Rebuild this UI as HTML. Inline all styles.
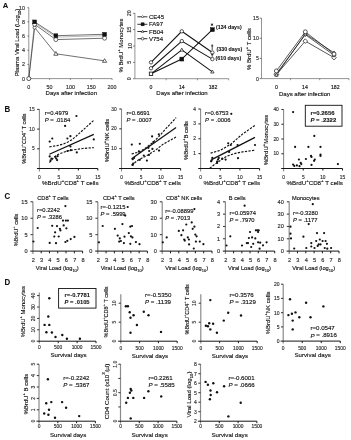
<!DOCTYPE html>
<html><head><meta charset="utf-8"><style>
html,body{margin:0;padding:0;background:#fff;}
body{width:351px;height:440px;overflow:hidden;}
svg{display:block;font-family:"Liberation Sans", sans-serif;will-change:transform;}
</style></head><body>
<svg width="351" height="440" viewBox="0 0 351 440">
<rect width="351" height="440" fill="#fff"/>
<text x="2.80" y="5.10" font-size="8.0" text-anchor="start" dominant-baseline="central" fill="#111" font-weight="bold" stroke="#111" stroke-width="0.08" textLength="5.5" lengthAdjust="spacingAndGlyphs">A</text>
<line x1="28.80" y1="7.70" x2="28.80" y2="78.60" stroke="#666" stroke-width="0.7"/>
<line x1="27.40" y1="78.60" x2="28.80" y2="78.60" stroke="#444" stroke-width="0.7"/>
<text x="25.10" y="78.60" font-size="5.4" text-anchor="end" dominant-baseline="central" fill="#2a2a2a" stroke="#2a2a2a" stroke-width="0.14">0</text>
<line x1="27.40" y1="64.42" x2="28.80" y2="64.42" stroke="#444" stroke-width="0.7"/>
<text x="25.10" y="64.42" font-size="5.4" text-anchor="end" dominant-baseline="central" fill="#2a2a2a" stroke="#2a2a2a" stroke-width="0.14">2</text>
<line x1="27.40" y1="50.24" x2="28.80" y2="50.24" stroke="#444" stroke-width="0.7"/>
<text x="25.10" y="50.24" font-size="5.4" text-anchor="end" dominant-baseline="central" fill="#2a2a2a" stroke="#2a2a2a" stroke-width="0.14">4</text>
<line x1="27.40" y1="36.06" x2="28.80" y2="36.06" stroke="#444" stroke-width="0.7"/>
<text x="25.10" y="36.06" font-size="5.4" text-anchor="end" dominant-baseline="central" fill="#2a2a2a" stroke="#2a2a2a" stroke-width="0.14">6</text>
<line x1="27.40" y1="21.88" x2="28.80" y2="21.88" stroke="#444" stroke-width="0.7"/>
<text x="25.10" y="21.88" font-size="5.4" text-anchor="end" dominant-baseline="central" fill="#2a2a2a" stroke="#2a2a2a" stroke-width="0.14">8</text>
<line x1="27.40" y1="7.70" x2="28.80" y2="7.70" stroke="#444" stroke-width="0.7"/>
<text x="25.10" y="7.70" font-size="5.4" text-anchor="end" dominant-baseline="central" fill="#2a2a2a" stroke="#2a2a2a" stroke-width="0.14">10</text>
<line x1="28.80" y1="78.60" x2="112.20" y2="78.60" stroke="#666" stroke-width="0.7"/>
<line x1="28.80" y1="78.60" x2="28.80" y2="80.00" stroke="#666" stroke-width="0.7"/>
<line x1="49.62" y1="78.60" x2="49.62" y2="80.00" stroke="#666" stroke-width="0.7"/>
<line x1="70.45" y1="78.60" x2="70.45" y2="80.00" stroke="#666" stroke-width="0.7"/>
<line x1="91.27" y1="78.60" x2="91.27" y2="80.00" stroke="#666" stroke-width="0.7"/>
<line x1="112.10" y1="78.60" x2="112.10" y2="80.00" stroke="#666" stroke-width="0.7"/>
<text x="28.80" y="86.80" font-size="5.4" text-anchor="middle" dominant-baseline="central" fill="#2a2a2a" stroke="#2a2a2a" stroke-width="0.14">0</text>
<text x="49.62" y="86.80" font-size="5.4" text-anchor="middle" dominant-baseline="central" fill="#2a2a2a" stroke="#2a2a2a" stroke-width="0.14">50</text>
<text x="70.45" y="86.80" font-size="5.4" text-anchor="middle" dominant-baseline="central" fill="#2a2a2a" stroke="#2a2a2a" stroke-width="0.14">100</text>
<text x="91.27" y="86.80" font-size="5.4" text-anchor="middle" dominant-baseline="central" fill="#2a2a2a" stroke="#2a2a2a" stroke-width="0.14">150</text>
<text x="112.10" y="86.80" font-size="5.4" text-anchor="middle" dominant-baseline="central" fill="#2a2a2a" stroke="#2a2a2a" stroke-width="0.14">200</text>
<text x="71.30" y="93.30" font-size="6.0" text-anchor="middle" dominant-baseline="central" fill="#111" stroke="#111" stroke-width="0.14">Days after infection</text>
<text x="16.50" y="42.50" font-size="5.9" text-anchor="middle" dominant-baseline="central" fill="#111" stroke="#111" stroke-width="0.14" transform="rotate(-90 16.50 42.50)">Plasma Viral Load (Log<tspan baseline-shift="sub" font-size="70%">10</tspan>)</text>
<polyline points="28.80,78.60 34.33,24.72" fill="none" stroke="#666" stroke-width="0.55"/>
<polyline points="34.63,21.88 55.87,35.71 104.60,34.29" fill="none" stroke="#111" stroke-width="0.6"/>
<polyline points="34.63,22.94 55.87,37.12 104.60,35.71" fill="none" stroke="#777" stroke-width="0.5"/>
<polyline points="34.63,24.36 55.87,39.60 104.60,38.19" fill="none" stroke="#111" stroke-width="0.6"/>
<polyline points="28.80,78.60 34.63,27.55 55.87,53.78 104.60,60.87" fill="none" stroke="#111" stroke-width="0.6"/>
<circle cx="34.63" cy="27.55" r="1.6" fill="#fff" stroke="#111" stroke-width="0.6"/>
<polygon points="55.87,51.59 53.77,55.25 57.97,55.25" fill="#fff" stroke="#111" stroke-width="0.65"/>
<polygon points="104.60,58.68 102.50,62.34 106.70,62.34" fill="#fff" stroke="#111" stroke-width="0.65"/>
<circle cx="34.63" cy="24.36" r="2.0" fill="#fff" stroke="#111" stroke-width="0.6"/>
<circle cx="55.87" cy="39.60" r="2.0" fill="#fff" stroke="#111" stroke-width="0.6"/>
<circle cx="104.60" cy="38.19" r="2.0" fill="#fff" stroke="#111" stroke-width="0.6"/>
<rect x="32.73" y="19.98" width="3.8" height="3.8" fill="#111" stroke="#111" stroke-width="0.5"/>
<rect x="53.97" y="33.81" width="3.8" height="3.8" fill="#111" stroke="#111" stroke-width="0.5"/>
<rect x="102.70" y="32.39" width="3.8" height="3.8" fill="#111" stroke="#111" stroke-width="0.5"/>
<circle cx="28.80" cy="78.60" r="2.0" fill="#fff" stroke="#111" stroke-width="0.7"/>
<line x1="134.90" y1="13.00" x2="134.90" y2="78.70" stroke="#666" stroke-width="0.7"/>
<line x1="133.10" y1="78.70" x2="134.90" y2="78.70" stroke="#444" stroke-width="0.7"/>
<text x="129.50" y="78.70" font-size="5.4" text-anchor="middle" dominant-baseline="central" fill="#2a2a2a" stroke="#2a2a2a" stroke-width="0.14" transform="rotate(-90 129.50 78.70)">0</text>
<line x1="133.10" y1="62.35" x2="134.90" y2="62.35" stroke="#444" stroke-width="0.7"/>
<text x="129.50" y="62.35" font-size="5.4" text-anchor="middle" dominant-baseline="central" fill="#2a2a2a" stroke="#2a2a2a" stroke-width="0.14" transform="rotate(-90 129.50 62.35)">5</text>
<line x1="133.10" y1="46.00" x2="134.90" y2="46.00" stroke="#444" stroke-width="0.7"/>
<text x="129.50" y="46.00" font-size="5.4" text-anchor="middle" dominant-baseline="central" fill="#2a2a2a" stroke="#2a2a2a" stroke-width="0.14" transform="rotate(-90 129.50 46.00)">10</text>
<line x1="133.10" y1="29.65" x2="134.90" y2="29.65" stroke="#444" stroke-width="0.7"/>
<text x="129.50" y="29.65" font-size="5.4" text-anchor="middle" dominant-baseline="central" fill="#2a2a2a" stroke="#2a2a2a" stroke-width="0.14" transform="rotate(-90 129.50 29.65)">15</text>
<line x1="133.10" y1="13.30" x2="134.90" y2="13.30" stroke="#444" stroke-width="0.7"/>
<text x="129.50" y="13.30" font-size="5.4" text-anchor="middle" dominant-baseline="central" fill="#2a2a2a" stroke="#2a2a2a" stroke-width="0.14" transform="rotate(-90 129.50 13.30)">20</text>
<line x1="134.90" y1="78.70" x2="228.70" y2="78.70" stroke="#666" stroke-width="0.7"/>
<line x1="166.20" y1="78.70" x2="166.20" y2="80.30" stroke="#666" stroke-width="0.7"/>
<line x1="197.40" y1="78.70" x2="197.40" y2="80.30" stroke="#666" stroke-width="0.7"/>
<line x1="228.70" y1="78.70" x2="228.70" y2="80.30" stroke="#666" stroke-width="0.7"/>
<text x="151.00" y="86.60" font-size="5.2" text-anchor="middle" dominant-baseline="central" fill="#111" stroke="#111" stroke-width="0.14">0</text>
<text x="181.80" y="86.60" font-size="5.2" text-anchor="middle" dominant-baseline="central" fill="#111" stroke="#111" stroke-width="0.14">14</text>
<text x="213.00" y="86.60" font-size="5.2" text-anchor="middle" dominant-baseline="central" fill="#111" stroke="#111" stroke-width="0.14">182</text>
<text x="182.00" y="93.40" font-size="6.0" text-anchor="middle" dominant-baseline="central" fill="#111" stroke="#111" stroke-width="0.14">Days after infection</text>
<text x="121.20" y="45.50" font-size="6.0" text-anchor="middle" dominant-baseline="central" fill="#111" stroke="#111" stroke-width="0.14" transform="rotate(-90 121.20 45.50)">% BrdU<tspan baseline-shift="super" font-size="70%">+</tspan> Monocytes</text>
<polyline points="151.00,62.35 181.80,31.29 212.40,52.54" fill="none" stroke="#111" stroke-width="1.05"/>
<polyline points="151.00,68.24 181.80,41.10 212.40,59.08" fill="none" stroke="#111" stroke-width="1.05"/>
<polyline points="151.00,73.80 181.80,49.92 212.40,71.83" fill="none" stroke="#111" stroke-width="1.05"/>
<polyline points="151.00,73.80 181.80,59.08 212.40,29.65" fill="none" stroke="#111" stroke-width="1.05"/>
<circle cx="151.00" cy="62.35" r="1.7" fill="#fff" stroke="#111" stroke-width="0.7"/>
<circle cx="181.80" cy="31.29" r="1.7" fill="#fff" stroke="#111" stroke-width="0.7"/>
<circle cx="212.40" cy="52.54" r="1.7" fill="#fff" stroke="#111" stroke-width="0.7"/>
<circle cx="151.00" cy="68.24" r="1.7" fill="#fff" stroke="#111" stroke-width="0.7"/>
<circle cx="181.80" cy="41.10" r="1.7" fill="#fff" stroke="#111" stroke-width="0.7"/>
<circle cx="212.40" cy="59.08" r="1.7" fill="#fff" stroke="#111" stroke-width="0.7"/>
<polygon points="151.00,72.02 149.30,74.98 152.70,74.98" fill="#fff" stroke="#111" stroke-width="0.7"/>
<polygon points="181.80,48.15 180.10,51.11 183.50,51.11" fill="#fff" stroke="#111" stroke-width="0.7"/>
<polygon points="212.40,70.06 210.70,73.02 214.10,73.02" fill="#fff" stroke="#111" stroke-width="0.7"/>
<rect x="149.30" y="72.09" width="3.4" height="3.4" fill="#fff" stroke="#111" stroke-width="0.8"/>
<rect x="179.85" y="57.13" width="3.9" height="3.9" fill="#111" stroke="#111" stroke-width="0.5"/>
<rect x="210.45" y="27.70" width="3.9" height="3.9" fill="#111" stroke="#111" stroke-width="0.5"/>
<line x1="137.40" y1="16.80" x2="147.40" y2="16.80" stroke="#111" stroke-width="0.85"/>
<polygon points="142.60,15.60 143.80,16.80 142.60,18.00 141.40,16.80" fill="#fff" stroke="#111" stroke-width="0.55"/>
<text x="149.00" y="16.80" font-size="6.0" text-anchor="start" dominant-baseline="central" fill="#111" stroke="#111" stroke-width="0.14">CE45</text>
<line x1="137.40" y1="24.30" x2="147.40" y2="24.30" stroke="#111" stroke-width="0.85"/>
<rect x="141.10" y="22.80" width="3.0" height="3.0" fill="#111" stroke="#111" stroke-width="0.5"/>
<text x="149.00" y="24.30" font-size="6.0" text-anchor="start" dominant-baseline="central" fill="#111" stroke="#111" stroke-width="0.14">FA97</text>
<line x1="137.40" y1="31.50" x2="147.40" y2="31.50" stroke="#111" stroke-width="0.85"/>
<polygon points="142.60,30.14 141.30,32.40 143.90,32.40" fill="#fff" stroke="#111" stroke-width="0.55"/>
<text x="149.00" y="31.50" font-size="6.0" text-anchor="start" dominant-baseline="central" fill="#111" stroke="#111" stroke-width="0.14">FB04</text>
<line x1="137.40" y1="38.70" x2="147.40" y2="38.70" stroke="#111" stroke-width="0.85"/>
<circle cx="142.60" cy="38.70" r="1.3" fill="#fff" stroke="#111" stroke-width="0.6"/>
<text x="149.00" y="38.70" font-size="6.0" text-anchor="start" dominant-baseline="central" fill="#111" stroke="#111" stroke-width="0.14">V754</text>
<text x="216.00" y="27.30" font-size="5.25" text-anchor="start" dominant-baseline="central" fill="#111" font-weight="bold" stroke="#111" stroke-width="0.08">(134 days)</text>
<text x="216.60" y="48.80" font-size="5.25" text-anchor="start" dominant-baseline="central" fill="#111" font-weight="bold" stroke="#111" stroke-width="0.08">(330 days)</text>
<text x="215.60" y="57.70" font-size="5.25" text-anchor="start" dominant-baseline="central" fill="#111" font-weight="bold" stroke="#111" stroke-width="0.08">(610 days)</text>
<line x1="212.00" y1="23.40" x2="212.00" y2="26.00" stroke="#111" stroke-width="0.7"/>
<line x1="213.13" y1="24.05" x2="210.87" y2="25.35" stroke="#111" stroke-width="0.7"/>
<line x1="213.13" y1="25.35" x2="210.87" y2="24.05" stroke="#111" stroke-width="0.7"/>
<line x1="212.20" y1="44.30" x2="212.20" y2="50.20" stroke="#111" stroke-width="0.75"/>
<line x1="211.10" y1="45.90" x2="213.30" y2="45.90" stroke="#111" stroke-width="0.75"/>
<line x1="212.20" y1="53.30" x2="212.20" y2="56.80" stroke="#111" stroke-width="0.75"/>
<line x1="211.10" y1="54.70" x2="213.30" y2="54.70" stroke="#111" stroke-width="0.75"/>
<line x1="261.50" y1="18.00" x2="261.50" y2="78.60" stroke="#666" stroke-width="0.7"/>
<line x1="259.70" y1="78.60" x2="261.50" y2="78.60" stroke="#444" stroke-width="0.7"/>
<text x="258.90" y="78.60" font-size="5.2" text-anchor="end" dominant-baseline="central" fill="#2a2a2a" stroke="#2a2a2a" stroke-width="0.14">0</text>
<line x1="259.70" y1="58.45" x2="261.50" y2="58.45" stroke="#444" stroke-width="0.7"/>
<text x="258.90" y="58.45" font-size="5.2" text-anchor="end" dominant-baseline="central" fill="#2a2a2a" stroke="#2a2a2a" stroke-width="0.14">5</text>
<line x1="259.70" y1="38.30" x2="261.50" y2="38.30" stroke="#444" stroke-width="0.7"/>
<text x="258.90" y="38.30" font-size="5.2" text-anchor="end" dominant-baseline="central" fill="#2a2a2a" stroke="#2a2a2a" stroke-width="0.14">10</text>
<line x1="259.70" y1="18.15" x2="261.50" y2="18.15" stroke="#444" stroke-width="0.7"/>
<text x="258.90" y="18.15" font-size="5.2" text-anchor="end" dominant-baseline="central" fill="#2a2a2a" stroke="#2a2a2a" stroke-width="0.14">15</text>
<line x1="261.50" y1="78.60" x2="349.00" y2="78.60" stroke="#666" stroke-width="0.7"/>
<line x1="290.50" y1="78.60" x2="290.50" y2="80.20" stroke="#666" stroke-width="0.7"/>
<line x1="319.70" y1="78.60" x2="319.70" y2="80.20" stroke="#666" stroke-width="0.7"/>
<line x1="349.00" y1="78.60" x2="349.00" y2="80.20" stroke="#666" stroke-width="0.7"/>
<text x="276.50" y="87.00" font-size="5.2" text-anchor="middle" dominant-baseline="central" fill="#111" stroke="#111" stroke-width="0.14">0</text>
<text x="305.00" y="87.00" font-size="5.2" text-anchor="middle" dominant-baseline="central" fill="#111" stroke="#111" stroke-width="0.14">14</text>
<text x="335.30" y="87.00" font-size="5.2" text-anchor="middle" dominant-baseline="central" fill="#111" stroke="#111" stroke-width="0.14">182</text>
<text x="304.70" y="93.50" font-size="6.0" text-anchor="middle" dominant-baseline="central" fill="#111" stroke="#111" stroke-width="0.14">Days after infection</text>
<text x="248.70" y="49.00" font-size="6.0" text-anchor="middle" dominant-baseline="central" fill="#111" stroke="#111" stroke-width="0.14" transform="rotate(-90 248.70 49.00)">% BrdU<tspan baseline-shift="super" font-size="70%">+</tspan> T cells</text>
<polyline points="276.40,70.94 305.30,31.85 334.00,54.02" fill="none" stroke="#111" stroke-width="0.7"/>
<polyline points="276.40,74.97 305.30,33.87 334.00,52.81" fill="none" stroke="#111" stroke-width="0.7"/>
<polyline points="276.40,73.76 305.30,34.67 334.00,55.23" fill="none" stroke="#111" stroke-width="0.7"/>
<polyline points="276.40,74.57 305.30,41.12 334.00,57.64" fill="none" stroke="#111" stroke-width="0.7"/>
<polygon points="276.40,72.27 278.70,74.57 276.40,76.87 274.10,74.57" fill="#fff" stroke="#111" stroke-width="0.7"/>
<polygon points="305.30,38.82 307.60,41.12 305.30,43.42 303.00,41.12" fill="#fff" stroke="#111" stroke-width="0.7"/>
<polygon points="334.00,55.34 336.30,57.64 334.00,59.94 331.70,57.64" fill="#fff" stroke="#111" stroke-width="0.7"/>
<polygon points="276.40,71.86 278.30,73.76 276.40,75.66 274.50,73.76" fill="#fff" stroke="#111" stroke-width="0.7"/>
<polygon points="305.30,32.77 307.20,34.67 305.30,36.57 303.40,34.67" fill="#fff" stroke="#111" stroke-width="0.7"/>
<polygon points="334.00,53.33 335.90,55.23 334.00,57.13 332.10,55.23" fill="#fff" stroke="#111" stroke-width="0.7"/>
<polygon points="276.40,73.20 274.70,76.16 278.10,76.16" fill="#fff" stroke="#111" stroke-width="0.7"/>
<polygon points="305.30,32.09 303.60,35.05 307.00,35.05" fill="#fff" stroke="#111" stroke-width="0.7"/>
<polygon points="334.00,51.03 332.30,53.99 335.70,53.99" fill="#fff" stroke="#111" stroke-width="0.7"/>
<circle cx="276.40" cy="70.94" r="2.0" fill="#fff" stroke="#111" stroke-width="0.7"/>
<circle cx="305.30" cy="31.85" r="2.0" fill="#fff" stroke="#111" stroke-width="0.7"/>
<circle cx="334.00" cy="54.02" r="2.0" fill="#fff" stroke="#111" stroke-width="0.7"/>
<text x="4.60" y="108.90" font-size="8.8" text-anchor="start" dominant-baseline="central" fill="#111" font-weight="bold" stroke="#111" stroke-width="0.08" textLength="5.7" lengthAdjust="spacingAndGlyphs">B</text>
<line x1="39.40" y1="109.40" x2="39.40" y2="171.50" stroke="#8a8a8a" stroke-width="1.1"/>
<line x1="37.20" y1="148.80" x2="39.40" y2="148.80" stroke="#333" stroke-width="1.1"/>
<text x="34.60" y="148.80" font-size="4.8" text-anchor="end" dominant-baseline="central" fill="#2a2a2a" stroke="#2a2a2a" stroke-width="0.14">5</text>
<line x1="37.20" y1="129.10" x2="39.40" y2="129.10" stroke="#333" stroke-width="1.1"/>
<text x="34.60" y="129.10" font-size="4.8" text-anchor="end" dominant-baseline="central" fill="#2a2a2a" stroke="#2a2a2a" stroke-width="0.14">10</text>
<line x1="37.20" y1="109.40" x2="39.40" y2="109.40" stroke="#333" stroke-width="1.1"/>
<text x="34.60" y="109.40" font-size="4.8" text-anchor="end" dominant-baseline="central" fill="#2a2a2a" stroke="#2a2a2a" stroke-width="0.14">15</text>
<line x1="37.00" y1="168.50" x2="97.80" y2="168.50" stroke="#151515" stroke-width="1.0"/>
<line x1="58.87" y1="168.50" x2="58.87" y2="170.50" stroke="#151515" stroke-width="1.0"/>
<line x1="78.33" y1="168.50" x2="78.33" y2="170.50" stroke="#151515" stroke-width="1.0"/>
<line x1="97.80" y1="168.50" x2="97.80" y2="170.50" stroke="#151515" stroke-width="1.0"/>
<text x="39.40" y="177.20" font-size="4.8" text-anchor="middle" dominant-baseline="central" fill="#2a2a2a" stroke="#2a2a2a" stroke-width="0.14">0</text>
<text x="58.87" y="177.20" font-size="4.8" text-anchor="middle" dominant-baseline="central" fill="#2a2a2a" stroke="#2a2a2a" stroke-width="0.14">5</text>
<text x="78.33" y="177.20" font-size="4.8" text-anchor="middle" dominant-baseline="central" fill="#2a2a2a" stroke="#2a2a2a" stroke-width="0.14">10</text>
<text x="97.80" y="177.20" font-size="4.8" text-anchor="middle" dominant-baseline="central" fill="#2a2a2a" stroke="#2a2a2a" stroke-width="0.14">15</text>
<text x="70.30" y="182.60" font-size="6.2" text-anchor="middle" dominant-baseline="central" fill="#111" stroke="#111" stroke-width="0.14">%BrdU<tspan baseline-shift="super" font-size="70%">+</tspan>CD8<tspan baseline-shift="super" font-size="70%">+</tspan> T cells</text>
<text x="24.50" y="138.60" font-size="5.5" text-anchor="middle" dominant-baseline="central" fill="#111" stroke="#111" stroke-width="0.14" transform="rotate(-90 24.50 138.60)">%BrdU<tspan baseline-shift="super" font-size="70%">+</tspan>CD4<tspan baseline-shift="super" font-size="70%">+</tspan> T cells</text>
<text x="44.80" y="112.60" font-size="5.9" text-anchor="start" dominant-baseline="central" fill="#111" stroke="#111" stroke-width="0.14">r=0.4979</text>
<text x="44.80" y="119.60" font-size="5.9" text-anchor="start" dominant-baseline="central" fill="#111" stroke="#111" stroke-width="0.14"><tspan font-style="italic">P</tspan> = .0184</text>
<polyline points="49.40,146.90 57.10,145.60 62.80,144.20 67.50,142.30 71.90,139.70 76.00,136.30 82.70,130.30 93.80,120.30" fill="none" stroke="#111" stroke-width="1.15" stroke-dasharray="2.3 1.3"/>
<polyline points="49.40,162.50 52.00,159.50 56.00,155.60 61.00,153.20 67.40,151.00 74.20,149.80 82.70,148.50 93.80,147.60" fill="none" stroke="#111" stroke-width="1.15" stroke-dasharray="2.3 1.3"/>
<polyline points="49.40,154.30 93.80,134.40" fill="none" stroke="#111" stroke-width="1.25"/>
<circle cx="49.70" cy="141.60" r="1.1" fill="#111"/>
<circle cx="52.30" cy="138.50" r="1.1" fill="#111"/>
<circle cx="65.10" cy="125.90" r="1.1" fill="#111"/>
<circle cx="76.40" cy="116.00" r="1.1" fill="#111"/>
<circle cx="67.40" cy="138.50" r="1.1" fill="#111"/>
<circle cx="70.40" cy="136.20" r="1.1" fill="#111"/>
<circle cx="70.40" cy="146.40" r="1.1" fill="#111"/>
<circle cx="76.80" cy="152.40" r="1.1" fill="#111"/>
<circle cx="93.80" cy="139.40" r="1.1" fill="#111"/>
<circle cx="49.70" cy="156.40" r="1.1" fill="#111"/>
<circle cx="50.60" cy="160.40" r="1.1" fill="#111"/>
<circle cx="51.50" cy="158.50" r="1.1" fill="#111"/>
<circle cx="55.40" cy="156.80" r="1.1" fill="#111"/>
<circle cx="56.20" cy="158.50" r="1.1" fill="#111"/>
<circle cx="57.10" cy="160.10" r="1.1" fill="#111"/>
<circle cx="57.60" cy="156.20" r="1.1" fill="#111"/>
<circle cx="67.40" cy="151.00" r="1.1" fill="#111"/>
<circle cx="70.80" cy="150.20" r="1.1" fill="#111"/>
<line x1="121.50" y1="109.00" x2="121.50" y2="171.50" stroke="#8a8a8a" stroke-width="1.1"/>
<line x1="119.30" y1="148.67" x2="121.50" y2="148.67" stroke="#333" stroke-width="1.1"/>
<text x="116.70" y="148.67" font-size="4.8" text-anchor="end" dominant-baseline="central" fill="#2a2a2a" stroke="#2a2a2a" stroke-width="0.14">10</text>
<line x1="119.30" y1="128.83" x2="121.50" y2="128.83" stroke="#333" stroke-width="1.1"/>
<text x="116.70" y="128.83" font-size="4.8" text-anchor="end" dominant-baseline="central" fill="#2a2a2a" stroke="#2a2a2a" stroke-width="0.14">20</text>
<line x1="119.30" y1="109.00" x2="121.50" y2="109.00" stroke="#333" stroke-width="1.1"/>
<text x="116.70" y="109.00" font-size="4.8" text-anchor="end" dominant-baseline="central" fill="#2a2a2a" stroke="#2a2a2a" stroke-width="0.14">30</text>
<line x1="119.10" y1="168.50" x2="180.60" y2="168.50" stroke="#151515" stroke-width="1.0"/>
<line x1="141.20" y1="168.50" x2="141.20" y2="170.50" stroke="#151515" stroke-width="1.0"/>
<line x1="160.90" y1="168.50" x2="160.90" y2="170.50" stroke="#151515" stroke-width="1.0"/>
<line x1="180.60" y1="168.50" x2="180.60" y2="170.50" stroke="#151515" stroke-width="1.0"/>
<text x="121.50" y="177.20" font-size="4.8" text-anchor="middle" dominant-baseline="central" fill="#2a2a2a" stroke="#2a2a2a" stroke-width="0.14">0</text>
<text x="141.20" y="177.20" font-size="4.8" text-anchor="middle" dominant-baseline="central" fill="#2a2a2a" stroke="#2a2a2a" stroke-width="0.14">5</text>
<text x="160.90" y="177.20" font-size="4.8" text-anchor="middle" dominant-baseline="central" fill="#2a2a2a" stroke="#2a2a2a" stroke-width="0.14">10</text>
<text x="180.60" y="177.20" font-size="4.8" text-anchor="middle" dominant-baseline="central" fill="#2a2a2a" stroke="#2a2a2a" stroke-width="0.14">15</text>
<text x="152.75" y="182.60" font-size="6.2" text-anchor="middle" dominant-baseline="central" fill="#111" stroke="#111" stroke-width="0.14">%BrdU<tspan baseline-shift="super" font-size="70%">+</tspan>CD8<tspan baseline-shift="super" font-size="70%">+</tspan> T cells</text>
<text x="106.80" y="140.50" font-size="6.0" text-anchor="middle" dominant-baseline="central" fill="#111" stroke="#111" stroke-width="0.14" transform="rotate(-90 106.80 140.50)">%BrdU<tspan baseline-shift="super" font-size="70%">+</tspan>NK cells</text>
<text x="126.40" y="112.60" font-size="5.9" text-anchor="start" dominant-baseline="central" fill="#111" stroke="#111" stroke-width="0.14">r=0.6691</text>
<text x="126.40" y="119.60" font-size="5.9" text-anchor="start" dominant-baseline="central" fill="#111" stroke="#111" stroke-width="0.14"><tspan font-style="italic">P</tspan> = .0007</text>
<polyline points="131.60,154.00 139.80,151.80 145.00,148.40 152.00,143.20 158.00,137.50 165.00,129.60 176.10,117.70" fill="none" stroke="#111" stroke-width="1.15" stroke-dasharray="2.3 1.3"/>
<polyline points="131.60,165.20 137.00,160.90 142.00,158.00 148.00,154.90 155.00,150.60 162.70,144.50 176.10,137.00" fill="none" stroke="#111" stroke-width="1.15" stroke-dasharray="2.3 1.3"/>
<polyline points="131.60,158.70 176.10,127.60" fill="none" stroke="#111" stroke-width="1.25"/>
<circle cx="131.80" cy="144.60" r="1.1" fill="#111"/>
<circle cx="139.80" cy="143.80" r="1.1" fill="#111"/>
<circle cx="152.10" cy="136.40" r="1.1" fill="#111"/>
<circle cx="159.00" cy="150.60" r="1.1" fill="#111"/>
<circle cx="146.90" cy="160.60" r="1.1" fill="#111"/>
<circle cx="132.70" cy="164.90" r="1.1" fill="#111"/>
<circle cx="133.20" cy="163.60" r="1.1" fill="#111"/>
<circle cx="138.90" cy="151.40" r="1.1" fill="#111"/>
<circle cx="143.80" cy="155.50" r="1.1" fill="#111"/>
<circle cx="148.90" cy="154.90" r="1.1" fill="#111"/>
<circle cx="149.20" cy="151.00" r="1.1" fill="#111"/>
<circle cx="152.40" cy="148.90" r="1.1" fill="#111"/>
<circle cx="158.80" cy="134.30" r="1.1" fill="#111"/>
<circle cx="139.80" cy="159.80" r="1.1" fill="#111"/>
<circle cx="134.10" cy="158.00" r="1.1" fill="#111"/>
<circle cx="132.70" cy="159.20" r="1.1" fill="#111"/>
<circle cx="148.40" cy="147.80" r="1.1" fill="#111"/>
<circle cx="153.30" cy="142.10" r="1.1" fill="#111"/>
<line x1="200.60" y1="109.00" x2="200.60" y2="171.50" stroke="#8a8a8a" stroke-width="1.1"/>
<line x1="198.40" y1="153.62" x2="200.60" y2="153.62" stroke="#333" stroke-width="1.1"/>
<text x="195.80" y="153.62" font-size="4.8" text-anchor="end" dominant-baseline="central" fill="#2a2a2a" stroke="#2a2a2a" stroke-width="0.14">1</text>
<line x1="198.40" y1="138.75" x2="200.60" y2="138.75" stroke="#333" stroke-width="1.1"/>
<text x="195.80" y="138.75" font-size="4.8" text-anchor="end" dominant-baseline="central" fill="#2a2a2a" stroke="#2a2a2a" stroke-width="0.14">2</text>
<line x1="198.40" y1="123.88" x2="200.60" y2="123.88" stroke="#333" stroke-width="1.1"/>
<text x="195.80" y="123.88" font-size="4.8" text-anchor="end" dominant-baseline="central" fill="#2a2a2a" stroke="#2a2a2a" stroke-width="0.14">3</text>
<line x1="198.40" y1="109.00" x2="200.60" y2="109.00" stroke="#333" stroke-width="1.1"/>
<text x="195.80" y="109.00" font-size="4.8" text-anchor="end" dominant-baseline="central" fill="#2a2a2a" stroke="#2a2a2a" stroke-width="0.14">4</text>
<line x1="198.20" y1="168.50" x2="259.60" y2="168.50" stroke="#151515" stroke-width="1.0"/>
<line x1="220.27" y1="168.50" x2="220.27" y2="170.50" stroke="#151515" stroke-width="1.0"/>
<line x1="239.93" y1="168.50" x2="239.93" y2="170.50" stroke="#151515" stroke-width="1.0"/>
<line x1="259.60" y1="168.50" x2="259.60" y2="170.50" stroke="#151515" stroke-width="1.0"/>
<text x="200.60" y="177.20" font-size="4.8" text-anchor="middle" dominant-baseline="central" fill="#2a2a2a" stroke="#2a2a2a" stroke-width="0.14">0</text>
<text x="220.27" y="177.20" font-size="4.8" text-anchor="middle" dominant-baseline="central" fill="#2a2a2a" stroke="#2a2a2a" stroke-width="0.14">5</text>
<text x="239.93" y="177.20" font-size="4.8" text-anchor="middle" dominant-baseline="central" fill="#2a2a2a" stroke="#2a2a2a" stroke-width="0.14">10</text>
<text x="259.60" y="177.20" font-size="4.8" text-anchor="middle" dominant-baseline="central" fill="#2a2a2a" stroke="#2a2a2a" stroke-width="0.14">15</text>
<text x="231.80" y="182.60" font-size="6.2" text-anchor="middle" dominant-baseline="central" fill="#111" stroke="#111" stroke-width="0.14">%BrdU<tspan baseline-shift="super" font-size="70%">+</tspan>CD8<tspan baseline-shift="super" font-size="70%">+</tspan> T cells</text>
<text x="186.30" y="140.50" font-size="6.0" text-anchor="middle" dominant-baseline="central" fill="#111" stroke="#111" stroke-width="0.14" transform="rotate(-90 186.30 140.50)">%BrdU<tspan baseline-shift="super" font-size="70%">+</tspan>B cells</text>
<text x="205.10" y="112.60" font-size="5.9" text-anchor="start" dominant-baseline="central" fill="#111" stroke="#111" stroke-width="0.14">r=0.6753</text>
<text x="205.10" y="119.60" font-size="5.9" text-anchor="start" dominant-baseline="central" fill="#111" stroke="#111" stroke-width="0.14"><tspan font-style="italic">P</tspan> = .0006</text>
<polyline points="210.60,153.10 220.50,150.20 230.80,144.20 242.70,133.90 255.00,125.40" fill="none" stroke="#111" stroke-width="1.15" stroke-dasharray="2.3 1.3"/>
<polyline points="209.80,168.30 213.50,165.20 218.20,162.00 226.20,156.50 234.20,153.60 242.70,151.90 255.00,150.20" fill="none" stroke="#111" stroke-width="1.15" stroke-dasharray="2.3 1.3"/>
<polyline points="211.60,159.60 255.00,137.40" fill="none" stroke="#111" stroke-width="1.25"/>
<circle cx="231.30" cy="113.80" r="1.1" fill="#111"/>
<circle cx="228.20" cy="143.30" r="1.1" fill="#111"/>
<circle cx="230.80" cy="145.00" r="1.1" fill="#111"/>
<circle cx="237.60" cy="145.00" r="1.1" fill="#111"/>
<circle cx="255.00" cy="145.00" r="1.1" fill="#111"/>
<circle cx="238.00" cy="158.20" r="1.1" fill="#111"/>
<circle cx="225.60" cy="159.60" r="1.1" fill="#111"/>
<circle cx="222.20" cy="158.70" r="1.1" fill="#111"/>
<circle cx="218.00" cy="159.60" r="1.1" fill="#111"/>
<circle cx="217.10" cy="161.60" r="1.1" fill="#111"/>
<circle cx="212.30" cy="157.90" r="1.1" fill="#111"/>
<circle cx="211.60" cy="160.40" r="1.1" fill="#111"/>
<circle cx="211.10" cy="161.30" r="1.1" fill="#111"/>
<circle cx="218.80" cy="157.90" r="1.1" fill="#111"/>
<circle cx="229.10" cy="151.90" r="1.1" fill="#111"/>
<circle cx="217.10" cy="163.00" r="1.1" fill="#111"/>
<line x1="283.60" y1="109.50" x2="283.60" y2="171.50" stroke="#8a8a8a" stroke-width="1.1"/>
<line x1="281.40" y1="153.75" x2="283.60" y2="153.75" stroke="#333" stroke-width="1.1"/>
<text x="278.80" y="153.75" font-size="4.8" text-anchor="end" dominant-baseline="central" fill="#2a2a2a" stroke="#2a2a2a" stroke-width="0.14">10</text>
<line x1="281.40" y1="139.00" x2="283.60" y2="139.00" stroke="#333" stroke-width="1.1"/>
<text x="278.80" y="139.00" font-size="4.8" text-anchor="end" dominant-baseline="central" fill="#2a2a2a" stroke="#2a2a2a" stroke-width="0.14">20</text>
<line x1="281.40" y1="124.25" x2="283.60" y2="124.25" stroke="#333" stroke-width="1.1"/>
<text x="278.80" y="124.25" font-size="4.8" text-anchor="end" dominant-baseline="central" fill="#2a2a2a" stroke="#2a2a2a" stroke-width="0.14">30</text>
<line x1="281.40" y1="109.50" x2="283.60" y2="109.50" stroke="#333" stroke-width="1.1"/>
<text x="278.80" y="109.50" font-size="4.8" text-anchor="end" dominant-baseline="central" fill="#2a2a2a" stroke="#2a2a2a" stroke-width="0.14">40</text>
<line x1="281.20" y1="168.50" x2="342.50" y2="168.50" stroke="#151515" stroke-width="1.0"/>
<line x1="303.23" y1="168.50" x2="303.23" y2="170.50" stroke="#151515" stroke-width="1.0"/>
<line x1="322.87" y1="168.50" x2="322.87" y2="170.50" stroke="#151515" stroke-width="1.0"/>
<line x1="342.50" y1="168.50" x2="342.50" y2="170.50" stroke="#151515" stroke-width="1.0"/>
<text x="283.60" y="177.20" font-size="4.8" text-anchor="middle" dominant-baseline="central" fill="#2a2a2a" stroke="#2a2a2a" stroke-width="0.14">0</text>
<text x="303.23" y="177.20" font-size="4.8" text-anchor="middle" dominant-baseline="central" fill="#2a2a2a" stroke="#2a2a2a" stroke-width="0.14">5</text>
<text x="322.87" y="177.20" font-size="4.8" text-anchor="middle" dominant-baseline="central" fill="#2a2a2a" stroke="#2a2a2a" stroke-width="0.14">10</text>
<text x="342.50" y="177.20" font-size="4.8" text-anchor="middle" dominant-baseline="central" fill="#2a2a2a" stroke="#2a2a2a" stroke-width="0.14">15</text>
<text x="314.75" y="182.60" font-size="6.2" text-anchor="middle" dominant-baseline="central" fill="#111" stroke="#111" stroke-width="0.14">%BrdU<tspan baseline-shift="super" font-size="70%">+</tspan>CD8<tspan baseline-shift="super" font-size="70%">+</tspan> T cells</text>
<text x="266.20" y="140.00" font-size="6.0" text-anchor="middle" dominant-baseline="central" fill="#111" stroke="#111" stroke-width="0.14" transform="rotate(-90 266.20 140.00)">%BrdU<tspan baseline-shift="super" font-size="70%">+</tspan>Monocytes</text>
<rect x="305.3" y="105.3" width="36.69999999999999" height="20.900000000000006" fill="#fff" stroke="#111" stroke-width="0.9"/>
<text x="310.40" y="113.10" font-size="6.0" text-anchor="start" dominant-baseline="central" fill="#111" font-weight="bold" stroke="#111" stroke-width="0.08">r=0.2656</text>
<text x="310.40" y="120.10" font-size="6.0" text-anchor="start" dominant-baseline="central" fill="#111" font-weight="bold" stroke="#111" stroke-width="0.08"><tspan font-style="italic">P</tspan> = .2322</text>
<circle cx="293.10" cy="112.10" r="1.1" fill="#111"/>
<circle cx="295.10" cy="146.90" r="1.1" fill="#111"/>
<circle cx="314.30" cy="135.90" r="1.1" fill="#111"/>
<circle cx="308.40" cy="146.90" r="1.1" fill="#111"/>
<circle cx="320.50" cy="146.90" r="1.1" fill="#111"/>
<circle cx="320.50" cy="154.60" r="1.1" fill="#111"/>
<circle cx="320.50" cy="155.90" r="1.1" fill="#111"/>
<circle cx="311.00" cy="155.90" r="1.1" fill="#111"/>
<circle cx="311.50" cy="156.90" r="1.1" fill="#111"/>
<circle cx="305.90" cy="159.00" r="1.1" fill="#111"/>
<circle cx="298.90" cy="159.50" r="1.1" fill="#111"/>
<circle cx="314.10" cy="160.80" r="1.1" fill="#111"/>
<circle cx="314.80" cy="159.50" r="1.1" fill="#111"/>
<circle cx="300.70" cy="162.80" r="1.1" fill="#111"/>
<circle cx="301.30" cy="164.10" r="1.1" fill="#111"/>
<circle cx="293.10" cy="164.60" r="1.1" fill="#111"/>
<circle cx="294.30" cy="165.90" r="1.1" fill="#111"/>
<circle cx="296.90" cy="165.40" r="1.1" fill="#111"/>
<circle cx="299.50" cy="166.20" r="1.1" fill="#111"/>
<circle cx="311.50" cy="164.90" r="1.1" fill="#111"/>
<circle cx="337.90" cy="164.10" r="1.1" fill="#111"/>
<text x="4.60" y="196.40" font-size="8.8" text-anchor="start" dominant-baseline="central" fill="#111" font-weight="bold" stroke="#111" stroke-width="0.08" textLength="5.7" lengthAdjust="spacingAndGlyphs">C</text>
<line x1="32.90" y1="201.80" x2="32.90" y2="254.10" stroke="#8a8a8a" stroke-width="1.2"/>
<text x="27.50" y="251.10" font-size="5.6" text-anchor="end" dominant-baseline="central" fill="#2a2a2a" stroke="#2a2a2a" stroke-width="0.14">0</text>
<line x1="30.50" y1="234.67" x2="32.90" y2="234.67" stroke="#333" stroke-width="1.0"/>
<text x="27.50" y="234.67" font-size="5.6" text-anchor="end" dominant-baseline="central" fill="#2a2a2a" stroke="#2a2a2a" stroke-width="0.14">5</text>
<line x1="30.50" y1="218.23" x2="32.90" y2="218.23" stroke="#333" stroke-width="1.0"/>
<text x="27.50" y="218.23" font-size="5.6" text-anchor="end" dominant-baseline="central" fill="#2a2a2a" stroke="#2a2a2a" stroke-width="0.14">10</text>
<line x1="30.50" y1="201.80" x2="32.90" y2="201.80" stroke="#333" stroke-width="1.0"/>
<text x="27.50" y="201.80" font-size="5.6" text-anchor="end" dominant-baseline="central" fill="#2a2a2a" stroke="#2a2a2a" stroke-width="0.14">15</text>
<line x1="30.30" y1="251.10" x2="82.60" y2="251.10" stroke="#151515" stroke-width="1.0"/>
<text x="33.30" y="260.40" font-size="5.6" text-anchor="middle" dominant-baseline="central" fill="#2a2a2a" stroke="#2a2a2a" stroke-width="0.14">2</text>
<line x1="41.18" y1="251.10" x2="41.18" y2="253.30" stroke="#151515" stroke-width="1.0"/>
<text x="41.58" y="260.40" font-size="5.6" text-anchor="middle" dominant-baseline="central" fill="#2a2a2a" stroke="#2a2a2a" stroke-width="0.14">3</text>
<line x1="49.47" y1="251.10" x2="49.47" y2="253.30" stroke="#151515" stroke-width="1.0"/>
<text x="49.87" y="260.40" font-size="5.6" text-anchor="middle" dominant-baseline="central" fill="#2a2a2a" stroke="#2a2a2a" stroke-width="0.14">4</text>
<line x1="57.75" y1="251.10" x2="57.75" y2="253.30" stroke="#151515" stroke-width="1.0"/>
<text x="58.15" y="260.40" font-size="5.6" text-anchor="middle" dominant-baseline="central" fill="#2a2a2a" stroke="#2a2a2a" stroke-width="0.14">5</text>
<line x1="66.03" y1="251.10" x2="66.03" y2="253.30" stroke="#151515" stroke-width="1.0"/>
<text x="66.43" y="260.40" font-size="5.6" text-anchor="middle" dominant-baseline="central" fill="#2a2a2a" stroke="#2a2a2a" stroke-width="0.14">6</text>
<line x1="74.32" y1="251.10" x2="74.32" y2="253.30" stroke="#151515" stroke-width="1.0"/>
<text x="74.72" y="260.40" font-size="5.6" text-anchor="middle" dominant-baseline="central" fill="#2a2a2a" stroke="#2a2a2a" stroke-width="0.14">7</text>
<line x1="82.60" y1="251.10" x2="82.60" y2="253.30" stroke="#151515" stroke-width="1.0"/>
<text x="83.00" y="260.40" font-size="5.6" text-anchor="middle" dominant-baseline="central" fill="#2a2a2a" stroke="#2a2a2a" stroke-width="0.14">8</text>
<text x="57.25" y="268.40" font-size="5.7" text-anchor="middle" dominant-baseline="central" fill="#111" stroke="#111" stroke-width="0.14">Viral Load (log<tspan baseline-shift="sub" font-size="70%">10</tspan>)</text>
<text x="37.20" y="198.30" font-size="5.7" text-anchor="start" dominant-baseline="central" fill="#111" stroke="#111" stroke-width="0.14">CD8<tspan baseline-shift="super" font-size="70%">+</tspan> T cells</text>
<text x="37.00" y="209.60" font-size="5.8" text-anchor="start" dominant-baseline="central" fill="#111" stroke="#111" stroke-width="0.14">r=0.2242</text>
<text x="37.00" y="216.60" font-size="5.8" text-anchor="start" dominant-baseline="central" fill="#111" stroke="#111" stroke-width="0.14"><tspan font-style="italic">P</tspan> = .3286</text>
<text x="15.60" y="230.00" font-size="5.6" text-anchor="middle" dominant-baseline="central" fill="#111" stroke="#111" stroke-width="0.14" transform="rotate(-90 15.60 230.00)">%BrdU<tspan baseline-shift="super" font-size="70%">+</tspan> cells</text>
<circle cx="37.70" cy="228.00" r="1.1" fill="#111"/>
<circle cx="33.40" cy="241.50" r="1.1" fill="#111"/>
<circle cx="49.70" cy="242.90" r="1.1" fill="#111"/>
<circle cx="56.00" cy="243.20" r="1.1" fill="#111"/>
<circle cx="52.20" cy="225.80" r="1.1" fill="#111"/>
<circle cx="57.00" cy="226.10" r="1.1" fill="#111"/>
<circle cx="59.90" cy="228.80" r="1.1" fill="#111"/>
<circle cx="60.40" cy="230.40" r="1.1" fill="#111"/>
<circle cx="55.10" cy="232.30" r="1.1" fill="#111"/>
<circle cx="54.30" cy="236.50" r="1.1" fill="#111"/>
<circle cx="58.70" cy="236.50" r="1.1" fill="#111"/>
<circle cx="63.70" cy="225.40" r="1.1" fill="#111"/>
<circle cx="66.40" cy="228.30" r="1.1" fill="#111"/>
<circle cx="63.00" cy="220.60" r="1.1" fill="#111"/>
<circle cx="65.90" cy="220.60" r="1.1" fill="#111"/>
<circle cx="67.90" cy="220.60" r="1.1" fill="#111"/>
<circle cx="65.40" cy="206.10" r="1.1" fill="#111"/>
<circle cx="65.40" cy="242.00" r="1.1" fill="#111"/>
<circle cx="67.30" cy="240.80" r="1.1" fill="#111"/>
<circle cx="70.70" cy="239.10" r="1.1" fill="#111"/>
<circle cx="74.40" cy="236.90" r="1.1" fill="#111"/>
<line x1="97.80" y1="201.80" x2="97.80" y2="254.10" stroke="#8a8a8a" stroke-width="1.2"/>
<text x="92.40" y="251.10" font-size="5.6" text-anchor="end" dominant-baseline="central" fill="#2a2a2a" stroke="#2a2a2a" stroke-width="0.14">0</text>
<line x1="95.40" y1="234.67" x2="97.80" y2="234.67" stroke="#333" stroke-width="1.0"/>
<text x="92.40" y="234.67" font-size="5.6" text-anchor="end" dominant-baseline="central" fill="#2a2a2a" stroke="#2a2a2a" stroke-width="0.14">5</text>
<line x1="95.40" y1="218.23" x2="97.80" y2="218.23" stroke="#333" stroke-width="1.0"/>
<text x="92.40" y="218.23" font-size="5.6" text-anchor="end" dominant-baseline="central" fill="#2a2a2a" stroke="#2a2a2a" stroke-width="0.14">10</text>
<line x1="95.40" y1="201.80" x2="97.80" y2="201.80" stroke="#333" stroke-width="1.0"/>
<text x="92.40" y="201.80" font-size="5.6" text-anchor="end" dominant-baseline="central" fill="#2a2a2a" stroke="#2a2a2a" stroke-width="0.14">15</text>
<line x1="95.20" y1="251.10" x2="147.40" y2="251.10" stroke="#151515" stroke-width="1.0"/>
<text x="98.20" y="260.40" font-size="5.6" text-anchor="middle" dominant-baseline="central" fill="#2a2a2a" stroke="#2a2a2a" stroke-width="0.14">2</text>
<line x1="106.07" y1="251.10" x2="106.07" y2="253.30" stroke="#151515" stroke-width="1.0"/>
<text x="106.47" y="260.40" font-size="5.6" text-anchor="middle" dominant-baseline="central" fill="#2a2a2a" stroke="#2a2a2a" stroke-width="0.14">3</text>
<line x1="114.33" y1="251.10" x2="114.33" y2="253.30" stroke="#151515" stroke-width="1.0"/>
<text x="114.73" y="260.40" font-size="5.6" text-anchor="middle" dominant-baseline="central" fill="#2a2a2a" stroke="#2a2a2a" stroke-width="0.14">4</text>
<line x1="122.60" y1="251.10" x2="122.60" y2="253.30" stroke="#151515" stroke-width="1.0"/>
<text x="123.00" y="260.40" font-size="5.6" text-anchor="middle" dominant-baseline="central" fill="#2a2a2a" stroke="#2a2a2a" stroke-width="0.14">5</text>
<line x1="130.87" y1="251.10" x2="130.87" y2="253.30" stroke="#151515" stroke-width="1.0"/>
<text x="131.27" y="260.40" font-size="5.6" text-anchor="middle" dominant-baseline="central" fill="#2a2a2a" stroke="#2a2a2a" stroke-width="0.14">6</text>
<line x1="139.13" y1="251.10" x2="139.13" y2="253.30" stroke="#151515" stroke-width="1.0"/>
<text x="139.53" y="260.40" font-size="5.6" text-anchor="middle" dominant-baseline="central" fill="#2a2a2a" stroke="#2a2a2a" stroke-width="0.14">7</text>
<line x1="147.40" y1="251.10" x2="147.40" y2="253.30" stroke="#151515" stroke-width="1.0"/>
<text x="147.80" y="260.40" font-size="5.6" text-anchor="middle" dominant-baseline="central" fill="#2a2a2a" stroke="#2a2a2a" stroke-width="0.14">8</text>
<text x="122.10" y="268.40" font-size="5.7" text-anchor="middle" dominant-baseline="central" fill="#111" stroke="#111" stroke-width="0.14">Viral Load (log<tspan baseline-shift="sub" font-size="70%">10</tspan>)</text>
<text x="103.00" y="198.30" font-size="5.7" text-anchor="start" dominant-baseline="central" fill="#111" stroke="#111" stroke-width="0.14">CD4<tspan baseline-shift="super" font-size="70%">+</tspan> T cells</text>
<text x="100.60" y="206.60" font-size="5.8" text-anchor="start" dominant-baseline="central" fill="#111" stroke="#111" stroke-width="0.14">r=-0.1215</text>
<text x="100.60" y="213.60" font-size="5.8" text-anchor="start" dominant-baseline="central" fill="#111" stroke="#111" stroke-width="0.14"><tspan font-style="italic">P</tspan> = .5999</text>
<circle cx="98.90" cy="242.30" r="1.1" fill="#111"/>
<circle cx="102.70" cy="226.00" r="1.1" fill="#111"/>
<circle cx="114.90" cy="228.80" r="1.1" fill="#111"/>
<circle cx="127.70" cy="207.00" r="1.1" fill="#111"/>
<circle cx="125.20" cy="215.60" r="1.1" fill="#111"/>
<circle cx="122.40" cy="224.10" r="1.1" fill="#111"/>
<circle cx="117.70" cy="235.60" r="1.1" fill="#111"/>
<circle cx="119.80" cy="238.40" r="1.1" fill="#111"/>
<circle cx="119.20" cy="241.60" r="1.1" fill="#111"/>
<circle cx="120.90" cy="241.00" r="1.1" fill="#111"/>
<circle cx="123.90" cy="243.10" r="1.1" fill="#111"/>
<circle cx="124.50" cy="236.70" r="1.1" fill="#111"/>
<circle cx="128.80" cy="233.10" r="1.1" fill="#111"/>
<circle cx="130.30" cy="226.70" r="1.1" fill="#111"/>
<circle cx="132.00" cy="226.00" r="1.1" fill="#111"/>
<circle cx="130.90" cy="236.30" r="1.1" fill="#111"/>
<circle cx="132.40" cy="237.40" r="1.1" fill="#111"/>
<circle cx="130.30" cy="243.80" r="1.1" fill="#111"/>
<circle cx="135.90" cy="242.10" r="1.1" fill="#111"/>
<circle cx="139.50" cy="244.20" r="1.1" fill="#111"/>
<line x1="162.20" y1="201.80" x2="162.20" y2="254.10" stroke="#8a8a8a" stroke-width="1.2"/>
<text x="156.80" y="251.10" font-size="5.6" text-anchor="end" dominant-baseline="central" fill="#2a2a2a" stroke="#2a2a2a" stroke-width="0.14">0</text>
<line x1="159.80" y1="234.67" x2="162.20" y2="234.67" stroke="#333" stroke-width="1.0"/>
<text x="156.80" y="234.67" font-size="5.6" text-anchor="end" dominant-baseline="central" fill="#2a2a2a" stroke="#2a2a2a" stroke-width="0.14">10</text>
<line x1="159.80" y1="218.23" x2="162.20" y2="218.23" stroke="#333" stroke-width="1.0"/>
<text x="156.80" y="218.23" font-size="5.6" text-anchor="end" dominant-baseline="central" fill="#2a2a2a" stroke="#2a2a2a" stroke-width="0.14">20</text>
<line x1="159.80" y1="201.80" x2="162.20" y2="201.80" stroke="#333" stroke-width="1.0"/>
<text x="156.80" y="201.80" font-size="5.6" text-anchor="end" dominant-baseline="central" fill="#2a2a2a" stroke="#2a2a2a" stroke-width="0.14">30</text>
<line x1="159.60" y1="251.10" x2="212.00" y2="251.10" stroke="#151515" stroke-width="1.0"/>
<text x="162.60" y="260.40" font-size="5.6" text-anchor="middle" dominant-baseline="central" fill="#2a2a2a" stroke="#2a2a2a" stroke-width="0.14">2</text>
<line x1="170.50" y1="251.10" x2="170.50" y2="253.30" stroke="#151515" stroke-width="1.0"/>
<text x="170.90" y="260.40" font-size="5.6" text-anchor="middle" dominant-baseline="central" fill="#2a2a2a" stroke="#2a2a2a" stroke-width="0.14">3</text>
<line x1="178.80" y1="251.10" x2="178.80" y2="253.30" stroke="#151515" stroke-width="1.0"/>
<text x="179.20" y="260.40" font-size="5.6" text-anchor="middle" dominant-baseline="central" fill="#2a2a2a" stroke="#2a2a2a" stroke-width="0.14">4</text>
<line x1="187.10" y1="251.10" x2="187.10" y2="253.30" stroke="#151515" stroke-width="1.0"/>
<text x="187.50" y="260.40" font-size="5.6" text-anchor="middle" dominant-baseline="central" fill="#2a2a2a" stroke="#2a2a2a" stroke-width="0.14">5</text>
<line x1="195.40" y1="251.10" x2="195.40" y2="253.30" stroke="#151515" stroke-width="1.0"/>
<text x="195.80" y="260.40" font-size="5.6" text-anchor="middle" dominant-baseline="central" fill="#2a2a2a" stroke="#2a2a2a" stroke-width="0.14">6</text>
<line x1="203.70" y1="251.10" x2="203.70" y2="253.30" stroke="#151515" stroke-width="1.0"/>
<text x="204.10" y="260.40" font-size="5.6" text-anchor="middle" dominant-baseline="central" fill="#2a2a2a" stroke="#2a2a2a" stroke-width="0.14">7</text>
<line x1="212.00" y1="251.10" x2="212.00" y2="253.30" stroke="#151515" stroke-width="1.0"/>
<text x="212.40" y="260.40" font-size="5.6" text-anchor="middle" dominant-baseline="central" fill="#2a2a2a" stroke="#2a2a2a" stroke-width="0.14">8</text>
<text x="186.60" y="268.40" font-size="5.7" text-anchor="middle" dominant-baseline="central" fill="#111" stroke="#111" stroke-width="0.14">Viral Load (log<tspan baseline-shift="sub" font-size="70%">10</tspan>)</text>
<text x="166.00" y="198.30" font-size="5.7" text-anchor="start" dominant-baseline="central" fill="#111" stroke="#111" stroke-width="0.14">CD8<tspan baseline-shift="super" font-size="70%">+</tspan> NK cells</text>
<text x="165.20" y="211.20" font-size="5.8" text-anchor="start" dominant-baseline="central" fill="#111" stroke="#111" stroke-width="0.14">r=-0.08899</text>
<text x="165.20" y="218.20" font-size="5.8" text-anchor="start" dominant-baseline="central" fill="#111" stroke="#111" stroke-width="0.14"><tspan font-style="italic">P</tspan> = .7013</text>
<circle cx="162.80" cy="242.30" r="1.1" fill="#111"/>
<circle cx="166.70" cy="237.40" r="1.1" fill="#111"/>
<circle cx="178.80" cy="230.90" r="1.1" fill="#111"/>
<circle cx="183.10" cy="230.30" r="1.1" fill="#111"/>
<circle cx="186.30" cy="224.50" r="1.1" fill="#111"/>
<circle cx="181.40" cy="235.20" r="1.1" fill="#111"/>
<circle cx="184.20" cy="239.50" r="1.1" fill="#111"/>
<circle cx="184.80" cy="240.60" r="1.1" fill="#111"/>
<circle cx="187.80" cy="237.40" r="1.1" fill="#111"/>
<circle cx="188.90" cy="239.50" r="1.1" fill="#111"/>
<circle cx="189.10" cy="244.40" r="1.1" fill="#111"/>
<circle cx="191.70" cy="222.40" r="1.1" fill="#111"/>
<circle cx="192.70" cy="228.80" r="1.1" fill="#111"/>
<circle cx="194.40" cy="226.70" r="1.1" fill="#111"/>
<circle cx="194.40" cy="209.10" r="1.1" fill="#111"/>
<circle cx="195.30" cy="234.60" r="1.1" fill="#111"/>
<circle cx="196.60" cy="236.30" r="1.1" fill="#111"/>
<circle cx="195.90" cy="241.60" r="1.1" fill="#111"/>
<circle cx="199.80" cy="241.60" r="1.1" fill="#111"/>
<circle cx="193.80" cy="248.50" r="1.1" fill="#111"/>
<circle cx="203.40" cy="244.20" r="1.1" fill="#111"/>
<line x1="225.40" y1="201.80" x2="225.40" y2="254.10" stroke="#8a8a8a" stroke-width="1.2"/>
<text x="220.00" y="251.10" font-size="5.6" text-anchor="end" dominant-baseline="central" fill="#2a2a2a" stroke="#2a2a2a" stroke-width="0.14">0</text>
<line x1="223.00" y1="238.78" x2="225.40" y2="238.78" stroke="#333" stroke-width="1.0"/>
<text x="220.00" y="238.78" font-size="5.6" text-anchor="end" dominant-baseline="central" fill="#2a2a2a" stroke="#2a2a2a" stroke-width="0.14">1</text>
<line x1="223.00" y1="226.45" x2="225.40" y2="226.45" stroke="#333" stroke-width="1.0"/>
<text x="220.00" y="226.45" font-size="5.6" text-anchor="end" dominant-baseline="central" fill="#2a2a2a" stroke="#2a2a2a" stroke-width="0.14">2</text>
<line x1="223.00" y1="214.12" x2="225.40" y2="214.12" stroke="#333" stroke-width="1.0"/>
<text x="220.00" y="214.12" font-size="5.6" text-anchor="end" dominant-baseline="central" fill="#2a2a2a" stroke="#2a2a2a" stroke-width="0.14">3</text>
<line x1="223.00" y1="201.80" x2="225.40" y2="201.80" stroke="#333" stroke-width="1.0"/>
<text x="220.00" y="201.80" font-size="5.6" text-anchor="end" dominant-baseline="central" fill="#2a2a2a" stroke="#2a2a2a" stroke-width="0.14">4</text>
<line x1="222.80" y1="251.10" x2="274.70" y2="251.10" stroke="#151515" stroke-width="1.0"/>
<text x="225.80" y="260.40" font-size="5.6" text-anchor="middle" dominant-baseline="central" fill="#2a2a2a" stroke="#2a2a2a" stroke-width="0.14">2</text>
<line x1="233.62" y1="251.10" x2="233.62" y2="253.30" stroke="#151515" stroke-width="1.0"/>
<text x="234.02" y="260.40" font-size="5.6" text-anchor="middle" dominant-baseline="central" fill="#2a2a2a" stroke="#2a2a2a" stroke-width="0.14">3</text>
<line x1="241.83" y1="251.10" x2="241.83" y2="253.30" stroke="#151515" stroke-width="1.0"/>
<text x="242.23" y="260.40" font-size="5.6" text-anchor="middle" dominant-baseline="central" fill="#2a2a2a" stroke="#2a2a2a" stroke-width="0.14">4</text>
<line x1="250.05" y1="251.10" x2="250.05" y2="253.30" stroke="#151515" stroke-width="1.0"/>
<text x="250.45" y="260.40" font-size="5.6" text-anchor="middle" dominant-baseline="central" fill="#2a2a2a" stroke="#2a2a2a" stroke-width="0.14">5</text>
<line x1="258.27" y1="251.10" x2="258.27" y2="253.30" stroke="#151515" stroke-width="1.0"/>
<text x="258.67" y="260.40" font-size="5.6" text-anchor="middle" dominant-baseline="central" fill="#2a2a2a" stroke="#2a2a2a" stroke-width="0.14">6</text>
<line x1="266.48" y1="251.10" x2="266.48" y2="253.30" stroke="#151515" stroke-width="1.0"/>
<text x="266.88" y="260.40" font-size="5.6" text-anchor="middle" dominant-baseline="central" fill="#2a2a2a" stroke="#2a2a2a" stroke-width="0.14">7</text>
<line x1="274.70" y1="251.10" x2="274.70" y2="253.30" stroke="#151515" stroke-width="1.0"/>
<text x="275.10" y="260.40" font-size="5.6" text-anchor="middle" dominant-baseline="central" fill="#2a2a2a" stroke="#2a2a2a" stroke-width="0.14">8</text>
<text x="249.55" y="268.40" font-size="5.7" text-anchor="middle" dominant-baseline="central" fill="#111" stroke="#111" stroke-width="0.14">Viral Load (log<tspan baseline-shift="sub" font-size="70%">10</tspan>)</text>
<text x="228.80" y="198.30" font-size="5.7" text-anchor="start" dominant-baseline="central" fill="#111" stroke="#111" stroke-width="0.14">B cells</text>
<text x="229.60" y="212.60" font-size="5.8" text-anchor="start" dominant-baseline="central" fill="#111" stroke="#111" stroke-width="0.14">r=0.05974</text>
<text x="229.60" y="219.60" font-size="5.8" text-anchor="start" dominant-baseline="central" fill="#111" stroke="#111" stroke-width="0.14"><tspan font-style="italic">P</tspan> = .7970</text>
<circle cx="226.50" cy="245.50" r="1.1" fill="#111"/>
<circle cx="230.30" cy="236.30" r="1.1" fill="#111"/>
<circle cx="244.60" cy="205.70" r="1.1" fill="#111"/>
<circle cx="242.00" cy="245.50" r="1.1" fill="#111"/>
<circle cx="246.80" cy="243.10" r="1.1" fill="#111"/>
<circle cx="248.00" cy="243.10" r="1.1" fill="#111"/>
<circle cx="248.90" cy="238.00" r="1.1" fill="#111"/>
<circle cx="250.00" cy="232.00" r="1.1" fill="#111"/>
<circle cx="252.10" cy="237.40" r="1.1" fill="#111"/>
<circle cx="251.20" cy="247.00" r="1.1" fill="#111"/>
<circle cx="253.20" cy="243.80" r="1.1" fill="#111"/>
<circle cx="255.30" cy="238.40" r="1.1" fill="#111"/>
<circle cx="255.90" cy="230.30" r="1.1" fill="#111"/>
<circle cx="257.40" cy="230.30" r="1.1" fill="#111"/>
<circle cx="258.70" cy="230.30" r="1.1" fill="#111"/>
<circle cx="258.10" cy="232.00" r="1.1" fill="#111"/>
<circle cx="258.10" cy="242.30" r="1.1" fill="#111"/>
<circle cx="260.20" cy="242.70" r="1.1" fill="#111"/>
<circle cx="259.60" cy="248.70" r="1.1" fill="#111"/>
<circle cx="263.00" cy="245.30" r="1.1" fill="#111"/>
<circle cx="266.60" cy="242.30" r="1.1" fill="#111"/>
<line x1="289.20" y1="201.80" x2="289.20" y2="254.10" stroke="#8a8a8a" stroke-width="1.2"/>
<text x="283.80" y="251.10" font-size="5.6" text-anchor="end" dominant-baseline="central" fill="#2a2a2a" stroke="#2a2a2a" stroke-width="0.14">0</text>
<line x1="286.80" y1="238.78" x2="289.20" y2="238.78" stroke="#333" stroke-width="1.0"/>
<text x="283.80" y="238.78" font-size="5.6" text-anchor="end" dominant-baseline="central" fill="#2a2a2a" stroke="#2a2a2a" stroke-width="0.14">10</text>
<line x1="286.80" y1="226.45" x2="289.20" y2="226.45" stroke="#333" stroke-width="1.0"/>
<text x="283.80" y="226.45" font-size="5.6" text-anchor="end" dominant-baseline="central" fill="#2a2a2a" stroke="#2a2a2a" stroke-width="0.14">20</text>
<line x1="286.80" y1="214.12" x2="289.20" y2="214.12" stroke="#333" stroke-width="1.0"/>
<text x="283.80" y="214.12" font-size="5.6" text-anchor="end" dominant-baseline="central" fill="#2a2a2a" stroke="#2a2a2a" stroke-width="0.14">30</text>
<line x1="286.80" y1="201.80" x2="289.20" y2="201.80" stroke="#333" stroke-width="1.0"/>
<text x="283.80" y="201.80" font-size="5.6" text-anchor="end" dominant-baseline="central" fill="#2a2a2a" stroke="#2a2a2a" stroke-width="0.14">40</text>
<line x1="286.60" y1="251.10" x2="339.00" y2="251.10" stroke="#151515" stroke-width="1.0"/>
<text x="289.60" y="260.40" font-size="5.6" text-anchor="middle" dominant-baseline="central" fill="#2a2a2a" stroke="#2a2a2a" stroke-width="0.14">2</text>
<line x1="297.50" y1="251.10" x2="297.50" y2="253.30" stroke="#151515" stroke-width="1.0"/>
<text x="297.90" y="260.40" font-size="5.6" text-anchor="middle" dominant-baseline="central" fill="#2a2a2a" stroke="#2a2a2a" stroke-width="0.14">3</text>
<line x1="305.80" y1="251.10" x2="305.80" y2="253.30" stroke="#151515" stroke-width="1.0"/>
<text x="306.20" y="260.40" font-size="5.6" text-anchor="middle" dominant-baseline="central" fill="#2a2a2a" stroke="#2a2a2a" stroke-width="0.14">4</text>
<line x1="314.10" y1="251.10" x2="314.10" y2="253.30" stroke="#151515" stroke-width="1.0"/>
<text x="314.50" y="260.40" font-size="5.6" text-anchor="middle" dominant-baseline="central" fill="#2a2a2a" stroke="#2a2a2a" stroke-width="0.14">5</text>
<line x1="322.40" y1="251.10" x2="322.40" y2="253.30" stroke="#151515" stroke-width="1.0"/>
<text x="322.80" y="260.40" font-size="5.6" text-anchor="middle" dominant-baseline="central" fill="#2a2a2a" stroke="#2a2a2a" stroke-width="0.14">6</text>
<line x1="330.70" y1="251.10" x2="330.70" y2="253.30" stroke="#151515" stroke-width="1.0"/>
<text x="331.10" y="260.40" font-size="5.6" text-anchor="middle" dominant-baseline="central" fill="#2a2a2a" stroke="#2a2a2a" stroke-width="0.14">7</text>
<line x1="339.00" y1="251.10" x2="339.00" y2="253.30" stroke="#151515" stroke-width="1.0"/>
<text x="339.40" y="260.40" font-size="5.6" text-anchor="middle" dominant-baseline="central" fill="#2a2a2a" stroke="#2a2a2a" stroke-width="0.14">8</text>
<text x="313.60" y="268.40" font-size="5.7" text-anchor="middle" dominant-baseline="central" fill="#111" stroke="#111" stroke-width="0.14">Viral Load (log<tspan baseline-shift="sub" font-size="70%">10</tspan>)</text>
<text x="292.00" y="198.30" font-size="5.7" text-anchor="start" dominant-baseline="central" fill="#111" stroke="#111" stroke-width="0.14">Monocytes</text>
<text x="293.00" y="212.60" font-size="5.8" text-anchor="start" dominant-baseline="central" fill="#111" stroke="#111" stroke-width="0.14">r=-0.3280</text>
<text x="293.00" y="219.60" font-size="5.8" text-anchor="start" dominant-baseline="central" fill="#111" stroke="#111" stroke-width="0.14"><tspan font-style="italic">P</tspan> = .1177</text>
<circle cx="290.50" cy="226.70" r="1.1" fill="#111"/>
<circle cx="290.50" cy="233.70" r="1.1" fill="#111"/>
<circle cx="291.00" cy="238.40" r="1.1" fill="#111"/>
<circle cx="294.20" cy="248.50" r="1.1" fill="#111"/>
<circle cx="303.40" cy="236.70" r="1.1" fill="#111"/>
<circle cx="306.30" cy="248.00" r="1.1" fill="#111"/>
<circle cx="308.70" cy="224.10" r="1.1" fill="#111"/>
<circle cx="311.30" cy="243.10" r="1.1" fill="#111"/>
<circle cx="311.30" cy="246.50" r="1.1" fill="#111"/>
<circle cx="312.80" cy="204.20" r="1.1" fill="#111"/>
<circle cx="314.50" cy="248.00" r="1.1" fill="#111"/>
<circle cx="316.20" cy="241.00" r="1.1" fill="#111"/>
<circle cx="317.00" cy="233.10" r="1.1" fill="#111"/>
<circle cx="317.70" cy="245.90" r="1.1" fill="#111"/>
<circle cx="318.70" cy="244.40" r="1.1" fill="#111"/>
<circle cx="319.80" cy="239.50" r="1.1" fill="#111"/>
<circle cx="320.50" cy="244.40" r="1.1" fill="#111"/>
<circle cx="322.60" cy="241.00" r="1.1" fill="#111"/>
<circle cx="324.10" cy="233.10" r="1.1" fill="#111"/>
<circle cx="324.70" cy="248.00" r="1.1" fill="#111"/>
<circle cx="325.60" cy="241.00" r="1.1" fill="#111"/>
<circle cx="326.90" cy="243.80" r="1.1" fill="#111"/>
<circle cx="327.30" cy="248.70" r="1.1" fill="#111"/>
<circle cx="331.10" cy="248.00" r="1.1" fill="#111"/>
<text x="4.60" y="282.00" font-size="8.8" text-anchor="start" dominant-baseline="central" fill="#111" font-weight="bold" stroke="#111" stroke-width="0.08" textLength="5.7" lengthAdjust="spacingAndGlyphs">D</text>
<line x1="39.30" y1="292.60" x2="39.30" y2="343.60" stroke="#8a8a8a" stroke-width="1.2"/>
<text x="32.70" y="341.20" font-size="5.0" text-anchor="middle" dominant-baseline="central" fill="#2a2a2a" stroke="#2a2a2a" stroke-width="0.14" transform="rotate(-90 32.70 341.20)">0</text>
<line x1="37.10" y1="329.80" x2="39.30" y2="329.80" stroke="#333" stroke-width="1.0"/>
<text x="32.70" y="329.80" font-size="5.0" text-anchor="middle" dominant-baseline="central" fill="#2a2a2a" stroke="#2a2a2a" stroke-width="0.14" transform="rotate(-90 32.70 329.80)">10</text>
<line x1="37.10" y1="318.40" x2="39.30" y2="318.40" stroke="#333" stroke-width="1.0"/>
<text x="32.70" y="318.40" font-size="5.0" text-anchor="middle" dominant-baseline="central" fill="#2a2a2a" stroke="#2a2a2a" stroke-width="0.14" transform="rotate(-90 32.70 318.40)">20</text>
<line x1="37.10" y1="307.00" x2="39.30" y2="307.00" stroke="#333" stroke-width="1.0"/>
<text x="32.70" y="307.00" font-size="5.0" text-anchor="middle" dominant-baseline="central" fill="#2a2a2a" stroke="#2a2a2a" stroke-width="0.14" transform="rotate(-90 32.70 307.00)">30</text>
<line x1="37.10" y1="295.60" x2="39.30" y2="295.60" stroke="#333" stroke-width="1.0"/>
<text x="32.70" y="295.60" font-size="5.0" text-anchor="middle" dominant-baseline="central" fill="#2a2a2a" stroke="#2a2a2a" stroke-width="0.14" transform="rotate(-90 32.70 295.60)">40</text>
<line x1="36.70" y1="341.20" x2="96.00" y2="341.20" stroke="#151515" stroke-width="1.0"/>
<text x="39.30" y="347.60" font-size="4.9" text-anchor="middle" dominant-baseline="central" fill="#2a2a2a" stroke="#2a2a2a" stroke-width="0.14">0</text>
<line x1="58.20" y1="341.20" x2="58.20" y2="343.20" stroke="#151515" stroke-width="1.0"/>
<text x="58.20" y="347.60" font-size="4.9" text-anchor="middle" dominant-baseline="central" fill="#2a2a2a" stroke="#2a2a2a" stroke-width="0.14">500</text>
<line x1="77.10" y1="341.20" x2="77.10" y2="343.20" stroke="#151515" stroke-width="1.0"/>
<text x="77.10" y="347.60" font-size="4.9" text-anchor="middle" dominant-baseline="central" fill="#2a2a2a" stroke="#2a2a2a" stroke-width="0.14">1000</text>
<line x1="96.00" y1="341.20" x2="96.00" y2="343.20" stroke="#151515" stroke-width="1.0"/>
<text x="96.00" y="347.60" font-size="4.9" text-anchor="middle" dominant-baseline="central" fill="#2a2a2a" stroke="#2a2a2a" stroke-width="0.14">1500</text>
<text x="68.55" y="354.60" font-size="6.1" text-anchor="middle" dominant-baseline="central" fill="#111" stroke="#111" stroke-width="0.14">Survival days</text>
<text x="22.70" y="311.60" font-size="5.9" text-anchor="middle" dominant-baseline="central" fill="#111" stroke="#111" stroke-width="0.14" transform="rotate(-90 22.70 311.60)">%BrdU<tspan baseline-shift="super" font-size="70%">+</tspan> Monocytes</text>
<rect x="58.6" y="288.5" width="37.4" height="19.600000000000023" fill="#fff" stroke="#111" stroke-width="0.9"/>
<text x="64.60" y="295.10" font-size="5.8" text-anchor="start" dominant-baseline="central" fill="#111" font-weight="bold" stroke="#111" stroke-width="0.08">r=-0.7781</text>
<text x="64.60" y="302.30" font-size="5.8" text-anchor="start" dominant-baseline="central" fill="#111" font-weight="bold" stroke="#111" stroke-width="0.08"><tspan font-style="italic">P</tspan> = .0105</text>
<circle cx="49.30" cy="298.30" r="1.2" fill="#111"/>
<circle cx="48.30" cy="316.50" r="1.2" fill="#111"/>
<circle cx="44.60" cy="324.90" r="1.2" fill="#111"/>
<circle cx="49.30" cy="324.90" r="1.2" fill="#111"/>
<circle cx="46.40" cy="332.30" r="1.2" fill="#111"/>
<circle cx="51.90" cy="332.50" r="1.2" fill="#111"/>
<circle cx="55.50" cy="337.00" r="1.2" fill="#111"/>
<circle cx="62.30" cy="335.00" r="1.2" fill="#111"/>
<circle cx="66.90" cy="338.80" r="1.2" fill="#111"/>
<circle cx="79.90" cy="338.80" r="1.2" fill="#111"/>
<line x1="120.80" y1="294.20" x2="120.80" y2="343.60" stroke="#8a8a8a" stroke-width="1.2"/>
<text x="114.50" y="341.20" font-size="5.0" text-anchor="middle" dominant-baseline="central" fill="#2a2a2a" stroke="#2a2a2a" stroke-width="0.14" transform="rotate(-90 114.50 341.20)">0</text>
<line x1="118.60" y1="322.20" x2="120.80" y2="322.20" stroke="#333" stroke-width="1.0"/>
<text x="114.50" y="322.20" font-size="5.0" text-anchor="middle" dominant-baseline="central" fill="#2a2a2a" stroke="#2a2a2a" stroke-width="0.14" transform="rotate(-90 114.50 322.20)">5</text>
<line x1="118.60" y1="303.20" x2="120.80" y2="303.20" stroke="#333" stroke-width="1.0"/>
<text x="114.50" y="303.20" font-size="5.0" text-anchor="middle" dominant-baseline="central" fill="#2a2a2a" stroke="#2a2a2a" stroke-width="0.14" transform="rotate(-90 114.50 303.20)">10</text>
<line x1="118.20" y1="341.20" x2="177.20" y2="341.20" stroke="#151515" stroke-width="1.0"/>
<text x="120.80" y="348.10" font-size="4.9" text-anchor="middle" dominant-baseline="central" fill="#2a2a2a" stroke="#2a2a2a" stroke-width="0.14">0</text>
<line x1="139.60" y1="341.20" x2="139.60" y2="343.20" stroke="#151515" stroke-width="1.0"/>
<text x="139.60" y="348.10" font-size="4.9" text-anchor="middle" dominant-baseline="central" fill="#2a2a2a" stroke="#2a2a2a" stroke-width="0.14">500</text>
<line x1="158.40" y1="341.20" x2="158.40" y2="343.20" stroke="#151515" stroke-width="1.0"/>
<text x="158.40" y="348.10" font-size="4.9" text-anchor="middle" dominant-baseline="central" fill="#2a2a2a" stroke="#2a2a2a" stroke-width="0.14">1000</text>
<line x1="177.20" y1="341.20" x2="177.20" y2="343.20" stroke="#151515" stroke-width="1.0"/>
<text x="177.20" y="348.10" font-size="4.9" text-anchor="middle" dominant-baseline="central" fill="#2a2a2a" stroke="#2a2a2a" stroke-width="0.14">1500</text>
<text x="149.90" y="355.00" font-size="6.1" text-anchor="middle" dominant-baseline="central" fill="#111" stroke="#111" stroke-width="0.14">Survival days</text>
<text x="105.70" y="312.00" font-size="5.6" text-anchor="middle" dominant-baseline="central" fill="#111" stroke="#111" stroke-width="0.14" transform="rotate(-90 105.70 312.00)">%BrdU<tspan baseline-shift="super" font-size="70%">+</tspan>CD8<tspan baseline-shift="super" font-size="70%">+</tspan> T cells</text>
<text x="145.10" y="294.20" font-size="6.1" text-anchor="start" dominant-baseline="central" fill="#111" stroke="#111" stroke-width="0.14">r=-0.5350</text>
<text x="145.10" y="301.40" font-size="6.1" text-anchor="start" dominant-baseline="central" fill="#111" stroke="#111" stroke-width="0.14"><tspan font-style="italic">P</tspan> = .1139</text>
<circle cx="125.90" cy="306.30" r="1.2" fill="#111"/>
<circle cx="127.90" cy="306.30" r="1.2" fill="#111"/>
<circle cx="129.70" cy="312.20" r="1.2" fill="#111"/>
<circle cx="130.50" cy="317.80" r="1.2" fill="#111"/>
<circle cx="133.60" cy="315.30" r="1.2" fill="#111"/>
<circle cx="130.50" cy="332.70" r="1.2" fill="#111"/>
<circle cx="136.90" cy="325.00" r="1.2" fill="#111"/>
<circle cx="143.80" cy="311.70" r="1.2" fill="#111"/>
<circle cx="148.50" cy="315.30" r="1.2" fill="#111"/>
<circle cx="161.00" cy="331.90" r="1.2" fill="#111"/>
<line x1="200.80" y1="294.20" x2="200.80" y2="343.60" stroke="#8a8a8a" stroke-width="1.2"/>
<text x="193.90" y="341.20" font-size="5.0" text-anchor="middle" dominant-baseline="central" fill="#2a2a2a" stroke="#2a2a2a" stroke-width="0.14" transform="rotate(-90 193.90 341.20)">0</text>
<line x1="198.60" y1="322.20" x2="200.80" y2="322.20" stroke="#333" stroke-width="1.0"/>
<text x="193.90" y="322.20" font-size="5.0" text-anchor="middle" dominant-baseline="central" fill="#2a2a2a" stroke="#2a2a2a" stroke-width="0.14" transform="rotate(-90 193.90 322.20)">5</text>
<line x1="198.60" y1="303.20" x2="200.80" y2="303.20" stroke="#333" stroke-width="1.0"/>
<text x="193.90" y="303.20" font-size="5.0" text-anchor="middle" dominant-baseline="central" fill="#2a2a2a" stroke="#2a2a2a" stroke-width="0.14" transform="rotate(-90 193.90 303.20)">10</text>
<line x1="198.20" y1="341.20" x2="257.20" y2="341.20" stroke="#151515" stroke-width="1.0"/>
<text x="200.80" y="348.10" font-size="4.9" text-anchor="middle" dominant-baseline="central" fill="#2a2a2a" stroke="#2a2a2a" stroke-width="0.14">0</text>
<line x1="219.60" y1="341.20" x2="219.60" y2="343.20" stroke="#151515" stroke-width="1.0"/>
<text x="219.60" y="348.10" font-size="4.9" text-anchor="middle" dominant-baseline="central" fill="#2a2a2a" stroke="#2a2a2a" stroke-width="0.14">500</text>
<line x1="238.40" y1="341.20" x2="238.40" y2="343.20" stroke="#151515" stroke-width="1.0"/>
<text x="238.40" y="348.10" font-size="4.9" text-anchor="middle" dominant-baseline="central" fill="#2a2a2a" stroke="#2a2a2a" stroke-width="0.14">1000</text>
<line x1="257.20" y1="341.20" x2="257.20" y2="343.20" stroke="#151515" stroke-width="1.0"/>
<text x="257.20" y="348.10" font-size="4.9" text-anchor="middle" dominant-baseline="central" fill="#2a2a2a" stroke="#2a2a2a" stroke-width="0.14">1500</text>
<text x="229.90" y="355.00" font-size="6.1" text-anchor="middle" dominant-baseline="central" fill="#111" stroke="#111" stroke-width="0.14">Survival days</text>
<text x="187.50" y="309.30" font-size="5.5" text-anchor="middle" dominant-baseline="central" fill="#111" stroke="#111" stroke-width="0.14" transform="rotate(-90 187.50 309.30)">%BrdU<tspan baseline-shift="super" font-size="70%">+</tspan>CD4<tspan baseline-shift="super" font-size="70%">+</tspan> T cells</text>
<text x="229.50" y="294.20" font-size="6.1" text-anchor="start" dominant-baseline="central" fill="#111" stroke="#111" stroke-width="0.14">r=0.3576</text>
<text x="229.50" y="301.40" font-size="6.1" text-anchor="start" dominant-baseline="central" fill="#111" stroke="#111" stroke-width="0.14"><tspan font-style="italic">P</tspan> = .3129</text>
<circle cx="210.30" cy="300.10" r="1.2" fill="#111"/>
<circle cx="205.90" cy="325.80" r="1.2" fill="#111"/>
<circle cx="207.90" cy="326.30" r="1.2" fill="#111"/>
<circle cx="209.20" cy="323.20" r="1.2" fill="#111"/>
<circle cx="213.10" cy="323.70" r="1.2" fill="#111"/>
<circle cx="210.30" cy="329.40" r="1.2" fill="#111"/>
<circle cx="216.90" cy="332.70" r="1.2" fill="#111"/>
<circle cx="223.80" cy="320.60" r="1.2" fill="#111"/>
<circle cx="228.20" cy="312.70" r="1.2" fill="#111"/>
<circle cx="241.00" cy="315.50" r="1.2" fill="#111"/>
<line x1="283.20" y1="284.20" x2="283.20" y2="343.50" stroke="#8a8a8a" stroke-width="1.2"/>
<text x="279.60" y="341.10" font-size="5.0" text-anchor="end" dominant-baseline="central" fill="#2a2a2a" stroke="#2a2a2a" stroke-width="0.14">0</text>
<line x1="281.00" y1="326.90" x2="283.20" y2="326.90" stroke="#333" stroke-width="1.0"/>
<text x="279.60" y="326.90" font-size="5.0" text-anchor="end" dominant-baseline="central" fill="#2a2a2a" stroke="#2a2a2a" stroke-width="0.14">5</text>
<line x1="281.00" y1="312.70" x2="283.20" y2="312.70" stroke="#333" stroke-width="1.0"/>
<text x="279.60" y="312.70" font-size="5.0" text-anchor="end" dominant-baseline="central" fill="#2a2a2a" stroke="#2a2a2a" stroke-width="0.14">10</text>
<line x1="281.00" y1="298.40" x2="283.20" y2="298.40" stroke="#333" stroke-width="1.0"/>
<text x="279.60" y="298.40" font-size="5.0" text-anchor="end" dominant-baseline="central" fill="#2a2a2a" stroke="#2a2a2a" stroke-width="0.14">15</text>
<line x1="281.00" y1="284.20" x2="283.20" y2="284.20" stroke="#333" stroke-width="1.0"/>
<text x="279.60" y="284.20" font-size="5.0" text-anchor="end" dominant-baseline="central" fill="#2a2a2a" stroke="#2a2a2a" stroke-width="0.14">20</text>
<line x1="280.60" y1="341.10" x2="340.30" y2="341.10" stroke="#151515" stroke-width="1.0"/>
<text x="283.20" y="348.00" font-size="4.9" text-anchor="middle" dominant-baseline="central" fill="#2a2a2a" stroke="#2a2a2a" stroke-width="0.14">0</text>
<line x1="302.23" y1="341.10" x2="302.23" y2="343.10" stroke="#151515" stroke-width="1.0"/>
<text x="302.23" y="348.00" font-size="4.9" text-anchor="middle" dominant-baseline="central" fill="#2a2a2a" stroke="#2a2a2a" stroke-width="0.14">500</text>
<line x1="321.27" y1="341.10" x2="321.27" y2="343.10" stroke="#151515" stroke-width="1.0"/>
<text x="321.27" y="348.00" font-size="4.9" text-anchor="middle" dominant-baseline="central" fill="#2a2a2a" stroke="#2a2a2a" stroke-width="0.14">1000</text>
<line x1="340.30" y1="341.10" x2="340.30" y2="343.10" stroke="#151515" stroke-width="1.0"/>
<text x="340.30" y="348.00" font-size="4.9" text-anchor="middle" dominant-baseline="central" fill="#2a2a2a" stroke="#2a2a2a" stroke-width="0.14">1500</text>
<text x="312.65" y="354.80" font-size="6.1" text-anchor="middle" dominant-baseline="central" fill="#111" stroke="#111" stroke-width="0.14">Survival days</text>
<text x="268.30" y="312.90" font-size="5.9" text-anchor="middle" dominant-baseline="central" fill="#111" stroke="#111" stroke-width="0.14" transform="rotate(-90 268.30 312.90)">%BrdU<tspan baseline-shift="super" font-size="70%">+</tspan>NK cells</text>
<text x="310.50" y="327.40" font-size="6.1" text-anchor="start" dominant-baseline="central" fill="#111" stroke="#111" stroke-width="0.14">r=0.0547</text>
<text x="310.50" y="334.60" font-size="6.1" text-anchor="start" dominant-baseline="central" fill="#111" stroke="#111" stroke-width="0.14"><tspan font-style="italic">P</tspan> = .8916</text>
<circle cx="290.00" cy="299.30" r="1.2" fill="#111"/>
<circle cx="288.40" cy="315.10" r="1.2" fill="#111"/>
<circle cx="291.90" cy="313.80" r="1.2" fill="#111"/>
<circle cx="295.50" cy="312.40" r="1.2" fill="#111"/>
<circle cx="292.70" cy="320.60" r="1.2" fill="#111"/>
<circle cx="292.70" cy="329.40" r="1.2" fill="#111"/>
<circle cx="299.30" cy="317.30" r="1.2" fill="#111"/>
<circle cx="306.10" cy="302.80" r="1.2" fill="#111"/>
<circle cx="310.50" cy="317.30" r="1.2" fill="#111"/>
<circle cx="323.40" cy="306.40" r="1.2" fill="#111"/>
<line x1="39.00" y1="364.00" x2="39.00" y2="423.60" stroke="#8a8a8a" stroke-width="1.2"/>
<text x="32.80" y="421.20" font-size="5.0" text-anchor="middle" dominant-baseline="central" fill="#2a2a2a" stroke="#2a2a2a" stroke-width="0.14" transform="rotate(-90 32.80 421.20)">0</text>
<line x1="36.80" y1="409.80" x2="39.00" y2="409.80" stroke="#333" stroke-width="1.0"/>
<text x="32.80" y="409.80" font-size="5.0" text-anchor="middle" dominant-baseline="central" fill="#2a2a2a" stroke="#2a2a2a" stroke-width="0.14" transform="rotate(-90 32.80 409.80)">1</text>
<line x1="36.80" y1="398.40" x2="39.00" y2="398.40" stroke="#333" stroke-width="1.0"/>
<text x="32.80" y="398.40" font-size="5.0" text-anchor="middle" dominant-baseline="central" fill="#2a2a2a" stroke="#2a2a2a" stroke-width="0.14" transform="rotate(-90 32.80 398.40)">2</text>
<line x1="36.80" y1="387.00" x2="39.00" y2="387.00" stroke="#333" stroke-width="1.0"/>
<text x="32.80" y="387.00" font-size="5.0" text-anchor="middle" dominant-baseline="central" fill="#2a2a2a" stroke="#2a2a2a" stroke-width="0.14" transform="rotate(-90 32.80 387.00)">3</text>
<line x1="36.80" y1="375.60" x2="39.00" y2="375.60" stroke="#333" stroke-width="1.0"/>
<text x="32.80" y="375.60" font-size="5.0" text-anchor="middle" dominant-baseline="central" fill="#2a2a2a" stroke="#2a2a2a" stroke-width="0.14" transform="rotate(-90 32.80 375.60)">4</text>
<line x1="36.80" y1="364.20" x2="39.00" y2="364.20" stroke="#333" stroke-width="1.0"/>
<text x="32.80" y="364.20" font-size="5.0" text-anchor="middle" dominant-baseline="central" fill="#2a2a2a" stroke="#2a2a2a" stroke-width="0.14" transform="rotate(-90 32.80 364.20)">5</text>
<line x1="36.40" y1="421.20" x2="95.40" y2="421.20" stroke="#151515" stroke-width="1.0"/>
<text x="39.00" y="426.90" font-size="4.9" text-anchor="middle" dominant-baseline="central" fill="#2a2a2a" stroke="#2a2a2a" stroke-width="0.14">0</text>
<line x1="57.80" y1="421.20" x2="57.80" y2="423.20" stroke="#151515" stroke-width="1.0"/>
<text x="57.80" y="426.90" font-size="4.9" text-anchor="middle" dominant-baseline="central" fill="#2a2a2a" stroke="#2a2a2a" stroke-width="0.14">500</text>
<line x1="76.60" y1="421.20" x2="76.60" y2="423.20" stroke="#151515" stroke-width="1.0"/>
<text x="76.60" y="426.90" font-size="4.9" text-anchor="middle" dominant-baseline="central" fill="#2a2a2a" stroke="#2a2a2a" stroke-width="0.14">1000</text>
<line x1="95.40" y1="421.20" x2="95.40" y2="423.20" stroke="#151515" stroke-width="1.0"/>
<text x="95.40" y="426.90" font-size="4.9" text-anchor="middle" dominant-baseline="central" fill="#2a2a2a" stroke="#2a2a2a" stroke-width="0.14">1500</text>
<text x="68.10" y="434.60" font-size="6.1" text-anchor="middle" dominant-baseline="central" fill="#111" stroke="#111" stroke-width="0.14">Survival days</text>
<text x="26.10" y="394.20" font-size="6.0" text-anchor="middle" dominant-baseline="central" fill="#111" stroke="#111" stroke-width="0.14" transform="rotate(-90 26.10 394.20)">%BrdU<tspan baseline-shift="super" font-size="70%">+</tspan> B cells</text>
<text x="63.20" y="377.00" font-size="6.1" text-anchor="start" dominant-baseline="central" fill="#111" stroke="#111" stroke-width="0.14">r=-0.2242</text>
<text x="63.20" y="384.20" font-size="6.1" text-anchor="start" dominant-baseline="central" fill="#111" stroke="#111" stroke-width="0.14"><tspan font-style="italic">P</tspan> = .5367</text>
<circle cx="47.90" cy="379.30" r="1.2" fill="#111"/>
<circle cx="46.20" cy="403.30" r="1.2" fill="#111"/>
<circle cx="51.30" cy="402.10" r="1.2" fill="#111"/>
<circle cx="62.10" cy="402.10" r="1.2" fill="#111"/>
<circle cx="66.10" cy="407.80" r="1.2" fill="#111"/>
<circle cx="49.00" cy="409.80" r="1.2" fill="#111"/>
<circle cx="44.20" cy="413.50" r="1.2" fill="#111"/>
<circle cx="48.40" cy="414.70" r="1.2" fill="#111"/>
<circle cx="55.00" cy="417.80" r="1.2" fill="#111"/>
<circle cx="79.20" cy="416.10" r="1.2" fill="#111"/>
<line x1="120.50" y1="364.00" x2="120.50" y2="423.60" stroke="#8a8a8a" stroke-width="1.2"/>
<text x="114.90" y="421.20" font-size="5.0" text-anchor="middle" dominant-baseline="central" fill="#2a2a2a" stroke="#2a2a2a" stroke-width="0.14" transform="rotate(-90 114.90 421.20)">0</text>
<line x1="118.30" y1="406.95" x2="120.50" y2="406.95" stroke="#333" stroke-width="1.0"/>
<text x="114.90" y="406.95" font-size="5.0" text-anchor="middle" dominant-baseline="central" fill="#2a2a2a" stroke="#2a2a2a" stroke-width="0.14" transform="rotate(-90 114.90 406.95)"></text>
<line x1="118.30" y1="392.70" x2="120.50" y2="392.70" stroke="#333" stroke-width="1.0"/>
<text x="114.90" y="392.70" font-size="5.0" text-anchor="middle" dominant-baseline="central" fill="#2a2a2a" stroke="#2a2a2a" stroke-width="0.14" transform="rotate(-90 114.90 392.70)">0.5</text>
<line x1="118.30" y1="378.45" x2="120.50" y2="378.45" stroke="#333" stroke-width="1.0"/>
<text x="114.90" y="378.45" font-size="5.0" text-anchor="middle" dominant-baseline="central" fill="#2a2a2a" stroke="#2a2a2a" stroke-width="0.14" transform="rotate(-90 114.90 378.45)"></text>
<line x1="118.30" y1="364.20" x2="120.50" y2="364.20" stroke="#333" stroke-width="1.0"/>
<text x="114.90" y="364.20" font-size="5.0" text-anchor="middle" dominant-baseline="central" fill="#2a2a2a" stroke="#2a2a2a" stroke-width="0.14" transform="rotate(-90 114.90 364.20)">1.0</text>
<line x1="117.90" y1="421.20" x2="176.90" y2="421.20" stroke="#151515" stroke-width="1.0"/>
<text x="120.50" y="426.90" font-size="4.9" text-anchor="middle" dominant-baseline="central" fill="#2a2a2a" stroke="#2a2a2a" stroke-width="0.14">0</text>
<line x1="139.30" y1="421.20" x2="139.30" y2="423.20" stroke="#151515" stroke-width="1.0"/>
<text x="139.30" y="426.90" font-size="4.9" text-anchor="middle" dominant-baseline="central" fill="#2a2a2a" stroke="#2a2a2a" stroke-width="0.14">500</text>
<line x1="158.10" y1="421.20" x2="158.10" y2="423.20" stroke="#151515" stroke-width="1.0"/>
<text x="158.10" y="426.90" font-size="4.9" text-anchor="middle" dominant-baseline="central" fill="#2a2a2a" stroke="#2a2a2a" stroke-width="0.14">1000</text>
<line x1="176.90" y1="421.20" x2="176.90" y2="423.20" stroke="#151515" stroke-width="1.0"/>
<text x="176.90" y="426.90" font-size="4.9" text-anchor="middle" dominant-baseline="central" fill="#2a2a2a" stroke="#2a2a2a" stroke-width="0.14">1500</text>
<text x="149.60" y="434.60" font-size="6.1" text-anchor="middle" dominant-baseline="central" fill="#111" stroke="#111" stroke-width="0.14">Survival days</text>
<text x="106.30" y="391.40" font-size="6.2" text-anchor="middle" dominant-baseline="central" fill="#111" stroke="#111" stroke-width="0.14" transform="rotate(-90 106.30 391.40)">CD4 Count (x10<tspan baseline-shift="super" font-size="70%">3</tspan>/µl)</text>
<text x="148.40" y="377.00" font-size="6.1" text-anchor="start" dominant-baseline="central" fill="#111" stroke="#111" stroke-width="0.14">r=0.2261</text>
<text x="148.40" y="384.20" font-size="6.1" text-anchor="start" dominant-baseline="central" fill="#111" stroke="#111" stroke-width="0.14"><tspan font-style="italic">P</tspan> = .5585</text>
<circle cx="130.70" cy="389.00" r="1.2" fill="#111"/>
<circle cx="129.90" cy="392.70" r="1.2" fill="#111"/>
<circle cx="127.90" cy="397.90" r="1.2" fill="#111"/>
<circle cx="133.30" cy="397.90" r="1.2" fill="#111"/>
<circle cx="144.10" cy="397.90" r="1.2" fill="#111"/>
<circle cx="148.40" cy="391.30" r="1.2" fill="#111"/>
<circle cx="161.20" cy="396.40" r="1.2" fill="#111"/>
<circle cx="126.20" cy="402.70" r="1.2" fill="#111"/>
<circle cx="130.70" cy="418.40" r="1.2" fill="#111"/>
<circle cx="131.30" cy="390.50" r="1.2" fill="#111"/>
<line x1="200.50" y1="364.00" x2="200.50" y2="423.60" stroke="#8a8a8a" stroke-width="1.2"/>
<text x="196.90" y="421.20" font-size="5.0" text-anchor="end" dominant-baseline="central" fill="#2a2a2a" stroke="#2a2a2a" stroke-width="0.14">2</text>
<line x1="198.30" y1="411.70" x2="200.50" y2="411.70" stroke="#333" stroke-width="1.0"/>
<text x="196.90" y="411.70" font-size="5.0" text-anchor="end" dominant-baseline="central" fill="#2a2a2a" stroke="#2a2a2a" stroke-width="0.14">3</text>
<line x1="198.30" y1="402.20" x2="200.50" y2="402.20" stroke="#333" stroke-width="1.0"/>
<text x="196.90" y="402.20" font-size="5.0" text-anchor="end" dominant-baseline="central" fill="#2a2a2a" stroke="#2a2a2a" stroke-width="0.14">4</text>
<line x1="198.30" y1="392.70" x2="200.50" y2="392.70" stroke="#333" stroke-width="1.0"/>
<text x="196.90" y="392.70" font-size="5.0" text-anchor="end" dominant-baseline="central" fill="#2a2a2a" stroke="#2a2a2a" stroke-width="0.14">5</text>
<line x1="198.30" y1="383.20" x2="200.50" y2="383.20" stroke="#333" stroke-width="1.0"/>
<text x="196.90" y="383.20" font-size="5.0" text-anchor="end" dominant-baseline="central" fill="#2a2a2a" stroke="#2a2a2a" stroke-width="0.14">6</text>
<line x1="198.30" y1="373.70" x2="200.50" y2="373.70" stroke="#333" stroke-width="1.0"/>
<text x="196.90" y="373.70" font-size="5.0" text-anchor="end" dominant-baseline="central" fill="#2a2a2a" stroke="#2a2a2a" stroke-width="0.14">7</text>
<line x1="198.30" y1="364.20" x2="200.50" y2="364.20" stroke="#333" stroke-width="1.0"/>
<text x="196.90" y="364.20" font-size="5.0" text-anchor="end" dominant-baseline="central" fill="#2a2a2a" stroke="#2a2a2a" stroke-width="0.14">8</text>
<line x1="197.90" y1="421.20" x2="256.90" y2="421.20" stroke="#151515" stroke-width="1.0"/>
<text x="200.50" y="426.90" font-size="4.9" text-anchor="middle" dominant-baseline="central" fill="#2a2a2a" stroke="#2a2a2a" stroke-width="0.14">0</text>
<line x1="219.30" y1="421.20" x2="219.30" y2="423.20" stroke="#151515" stroke-width="1.0"/>
<text x="219.30" y="426.90" font-size="4.9" text-anchor="middle" dominant-baseline="central" fill="#2a2a2a" stroke="#2a2a2a" stroke-width="0.14">500</text>
<line x1="238.10" y1="421.20" x2="238.10" y2="423.20" stroke="#151515" stroke-width="1.0"/>
<text x="238.10" y="426.90" font-size="4.9" text-anchor="middle" dominant-baseline="central" fill="#2a2a2a" stroke="#2a2a2a" stroke-width="0.14">1000</text>
<line x1="256.90" y1="421.20" x2="256.90" y2="423.20" stroke="#151515" stroke-width="1.0"/>
<text x="256.90" y="426.90" font-size="4.9" text-anchor="middle" dominant-baseline="central" fill="#2a2a2a" stroke="#2a2a2a" stroke-width="0.14">1500</text>
<text x="229.60" y="434.60" font-size="6.1" text-anchor="middle" dominant-baseline="central" fill="#111" stroke="#111" stroke-width="0.14">Survival days</text>
<text x="188.60" y="394.50" font-size="6.1" text-anchor="middle" dominant-baseline="central" fill="#111" stroke="#111" stroke-width="0.14" transform="rotate(-90 188.60 394.50)">Viral Load (log<tspan baseline-shift="sub" font-size="70%">10</tspan>)</text>
<text x="228.40" y="377.00" font-size="6.1" text-anchor="start" dominant-baseline="central" fill="#111" stroke="#111" stroke-width="0.14">r=-0.6001</text>
<text x="228.40" y="384.20" font-size="6.1" text-anchor="start" dominant-baseline="central" fill="#111" stroke="#111" stroke-width="0.14"><tspan font-style="italic">P</tspan> = .0666</text>
<circle cx="205.60" cy="381.90" r="1.2" fill="#111"/>
<circle cx="207.90" cy="384.80" r="1.2" fill="#111"/>
<circle cx="213.30" cy="383.30" r="1.2" fill="#111"/>
<circle cx="210.50" cy="390.50" r="1.2" fill="#111"/>
<circle cx="217.00" cy="392.20" r="1.2" fill="#111"/>
<circle cx="210.70" cy="395.00" r="1.2" fill="#111"/>
<circle cx="209.90" cy="399.30" r="1.2" fill="#111"/>
<circle cx="224.10" cy="386.20" r="1.2" fill="#111"/>
<circle cx="240.70" cy="402.70" r="1.2" fill="#111"/>
<circle cx="228.40" cy="416.40" r="1.2" fill="#111"/>
</svg>
</body></html>
